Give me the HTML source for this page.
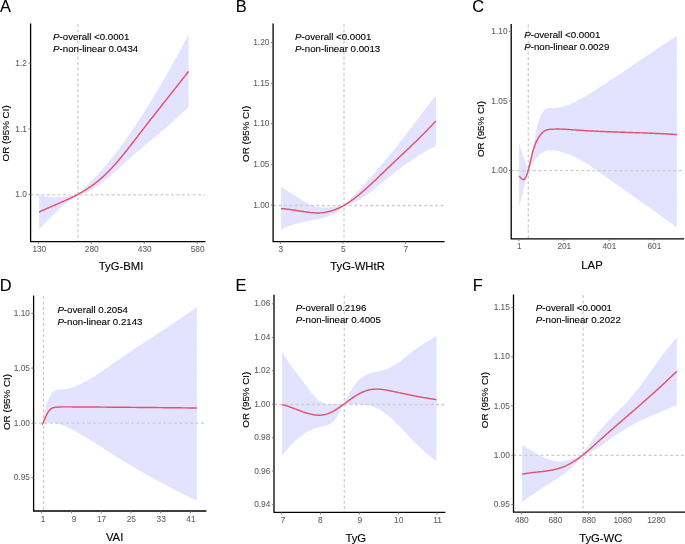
<!DOCTYPE html>
<html><head><meta charset="utf-8"><style>
html,body{margin:0;padding:0;background:#fff;}
svg{display:block;font-family:"Liberation Sans", sans-serif;will-change:transform;}
</style></head><body>
<svg width="685" height="544" viewBox="0 0 685 544">
<rect width="685" height="544" fill="#fff"/>
<path d="M39.00,194.90L39.50,195.04L40.01,195.18L40.51,195.31L41.02,195.44L41.52,195.56L42.02,195.68L42.53,195.79L43.03,195.90L43.54,196.00L44.04,196.10L44.54,196.20L45.05,196.28L45.55,196.37L46.05,196.45L46.56,196.52L47.06,196.59L47.57,196.66L48.07,196.72L48.57,196.78L49.08,196.83L49.58,196.88L50.09,196.93L50.59,196.97L51.09,197.00L51.60,197.04L52.10,197.06L52.61,197.09L53.11,197.11L53.61,197.13L54.12,197.14L54.62,197.15L55.12,197.16L55.63,197.16L56.13,197.16L56.64,197.15L57.14,197.14L57.64,197.13L58.15,197.12L58.65,197.10L59.16,197.08L59.66,197.05L60.16,197.03L60.67,197.00L61.17,196.96L61.68,196.93L62.18,196.89L62.68,196.84L63.19,196.80L63.69,196.75L64.19,196.70L64.70,196.65L65.20,196.59L65.71,196.53L66.21,196.47L66.71,196.41L67.22,196.34L67.72,196.27L68.23,196.20L68.73,196.13L69.23,196.06L69.74,195.98L70.24,195.90L70.75,195.82L71.25,195.74L71.75,195.65L72.26,195.56L72.76,195.48L73.26,195.39L73.77,195.29L74.27,195.20L74.78,195.10L75.28,195.01L75.78,194.91L76.29,194.81L76.79,194.71L77.30,194.60L77.80,194.50L77.80,194.50L78.30,194.04L78.80,193.58L79.30,193.11L79.81,192.65L80.31,192.18L80.81,191.71L81.31,191.24L81.81,190.76L82.31,190.28L82.81,189.80L83.31,189.32L83.82,188.84L84.32,188.36L84.82,187.87L85.32,187.38L85.82,186.89L86.32,186.39L86.82,185.89L87.33,185.40L87.83,184.89L88.33,184.39L88.83,183.89L89.33,183.38L89.83,182.87L90.33,182.36L90.84,181.84L91.34,181.32L91.84,180.80L92.34,180.28L92.84,179.76L93.34,179.23L93.84,178.70L94.34,178.17L94.85,177.64L95.35,177.10L95.85,176.56L96.35,176.02L96.85,175.47L97.35,174.93L97.85,174.38L98.36,173.83L98.86,173.27L99.36,172.72L99.86,172.16L100.36,171.60L100.86,171.03L101.36,170.46L101.87,169.89L102.37,169.32L102.87,168.75L103.37,168.17L103.87,167.59L104.37,167.01L104.87,166.42L105.37,165.83L105.88,165.24L106.38,164.65L106.88,164.05L107.38,163.45L107.88,162.85L108.38,162.25L108.88,161.64L109.39,161.03L109.89,160.42L110.39,159.80L110.89,159.18L111.39,158.56L111.89,157.93L112.39,157.31L112.90,156.68L113.40,156.04L113.90,155.41L114.40,154.77L114.90,154.13L115.40,153.48L115.90,152.83L116.40,152.18L116.91,151.53L117.41,150.87L117.91,150.21L118.41,149.55L118.91,148.89L119.41,148.22L119.91,147.55L120.42,146.87L120.92,146.20L121.42,145.52L121.92,144.83L122.42,144.15L122.92,143.46L123.42,142.77L123.92,142.08L124.43,141.38L124.93,140.68L125.43,139.98L125.93,139.28L126.43,138.57L126.93,137.86L127.43,137.15L127.94,136.44L128.44,135.72L128.94,135.00L129.44,134.28L129.94,133.55L130.44,132.83L130.94,132.10L131.45,131.36L131.95,130.63L132.45,129.89L132.95,129.15L133.45,128.41L133.95,127.67L134.45,126.92L134.95,126.17L135.46,125.42L135.96,124.66L136.46,123.90L136.96,123.15L137.46,122.38L137.96,121.62L138.46,120.85L138.97,120.08L139.47,119.31L139.97,118.54L140.47,117.76L140.97,116.99L141.47,116.21L141.97,115.42L142.48,114.64L142.98,113.85L143.48,113.06L143.98,112.27L144.48,111.48L144.98,110.68L145.48,109.88L145.98,109.08L146.49,108.28L146.99,107.48L147.49,106.67L147.99,105.86L148.49,105.05L148.99,104.24L149.49,103.42L150.00,102.61L150.50,101.79L151.00,100.97L151.50,100.14L152.00,99.32L152.50,98.49L153.00,97.66L153.50,96.83L154.01,96.00L154.51,95.17L155.01,94.33L155.51,93.49L156.01,92.65L156.51,91.81L157.01,90.96L157.52,90.12L158.02,89.27L158.52,88.42L159.02,87.57L159.52,86.72L160.02,85.86L160.52,85.01L161.03,84.15L161.53,83.29L162.03,82.42L162.53,81.56L163.03,80.70L163.53,79.83L164.03,78.96L164.53,78.09L165.04,77.22L165.54,76.34L166.04,75.47L166.54,74.59L167.04,73.71L167.54,72.83L168.04,71.95L168.55,71.07L169.05,70.18L169.55,69.30L170.05,68.41L170.55,67.52L171.05,66.63L171.55,65.73L172.06,64.84L172.56,63.95L173.06,63.05L173.56,62.15L174.06,61.25L174.56,60.35L175.06,59.45L175.56,58.54L176.07,57.64L176.57,56.73L177.07,55.82L177.57,54.91L178.07,54.00L178.57,53.09L179.07,52.18L179.58,51.26L180.08,50.35L180.58,49.43L181.08,48.51L181.58,47.59L182.08,46.67L182.58,45.75L183.09,44.83L183.59,43.90L184.09,42.98L184.59,42.05L185.09,41.12L185.59,40.20L186.09,39.27L186.59,38.33L187.10,37.40L187.60,36.47L188.10,35.54L188.60,34.60L188.60,106.80L188.10,107.30L187.60,107.80L187.10,108.29L186.59,108.79L186.09,109.28L185.59,109.77L185.09,110.26L184.59,110.74L184.09,111.23L183.59,111.71L183.09,112.19L182.58,112.67L182.08,113.14L181.58,113.62L181.08,114.09L180.58,114.56L180.08,115.03L179.58,115.50L179.07,115.97L178.57,116.43L178.07,116.89L177.57,117.36L177.07,117.82L176.57,118.27L176.07,118.73L175.56,119.19L175.06,119.64L174.56,120.09L174.06,120.54L173.56,120.99L173.06,121.44L172.56,121.89L172.06,122.34L171.55,122.78L171.05,123.22L170.55,123.67L170.05,124.11L169.55,124.55L169.05,124.99L168.55,125.43L168.04,125.86L167.54,126.30L167.04,126.73L166.54,127.17L166.04,127.60L165.54,128.03L165.04,128.47L164.53,128.90L164.03,129.33L163.53,129.76L163.03,130.18L162.53,130.61L162.03,131.04L161.53,131.47L161.03,131.89L160.52,132.32L160.02,132.74L159.52,133.17L159.02,133.59L158.52,134.01L158.02,134.44L157.52,134.86L157.01,135.28L156.51,135.70L156.01,136.12L155.51,136.54L155.01,136.96L154.51,137.38L154.01,137.80L153.50,138.22L153.00,138.64L152.50,139.06L152.00,139.48L151.50,139.90L151.00,140.32L150.50,140.74L150.00,141.16L149.49,141.58L148.99,142.00L148.49,142.42L147.99,142.83L147.49,143.25L146.99,143.67L146.49,144.09L145.98,144.51L145.48,144.93L144.98,145.35L144.48,145.78L143.98,146.20L143.48,146.62L142.98,147.04L142.48,147.46L141.97,147.89L141.47,148.31L140.97,148.73L140.47,149.16L139.97,149.58L139.47,150.01L138.97,150.43L138.46,150.86L137.96,151.29L137.46,151.72L136.96,152.15L136.46,152.57L135.96,153.01L135.46,153.44L134.95,153.87L134.45,154.30L133.95,154.74L133.45,155.17L132.95,155.61L132.45,156.04L131.95,156.48L131.45,156.92L130.94,157.36L130.44,157.80L129.94,158.24L129.44,158.68L128.94,159.13L128.44,159.57L127.94,160.02L127.43,160.47L126.93,160.92L126.43,161.37L125.93,161.82L125.43,162.28L124.93,162.73L124.43,163.19L123.92,163.64L123.42,164.10L122.92,164.56L122.42,165.02L121.92,165.48L121.42,165.95L120.92,166.41L120.42,166.87L119.91,167.33L119.41,167.79L118.91,168.25L118.41,168.71L117.91,169.17L117.41,169.63L116.91,170.08L116.40,170.54L115.90,170.99L115.40,171.44L114.90,171.89L114.40,172.33L113.90,172.77L113.40,173.21L112.90,173.65L112.39,174.09L111.89,174.52L111.39,174.95L110.89,175.38L110.39,175.81L109.89,176.23L109.39,176.65L108.88,177.07L108.38,177.49L107.88,177.90L107.38,178.31L106.88,178.72L106.38,179.13L105.88,179.54L105.37,179.94L104.87,180.34L104.37,180.74L103.87,181.14L103.37,181.54L102.87,181.93L102.37,182.32L101.87,182.71L101.36,183.09L100.86,183.48L100.36,183.86L99.86,184.23L99.36,184.61L98.86,184.98L98.36,185.35L97.85,185.71L97.35,186.07L96.85,186.43L96.35,186.78L95.85,187.13L95.35,187.48L94.85,187.82L94.34,188.16L93.84,188.50L93.34,188.83L92.84,189.15L92.34,189.47L91.84,189.78L91.34,190.09L90.84,190.38L90.33,190.68L89.83,190.96L89.33,191.24L88.83,191.51L88.33,191.77L87.83,192.02L87.33,192.26L86.82,192.49L86.32,192.71L85.82,192.92L85.32,193.12L84.82,193.30L84.32,193.48L83.82,193.64L83.31,193.79L82.81,193.93L82.31,194.05L81.81,194.16L81.31,194.26L80.81,194.34L80.31,194.41L79.81,194.46L79.30,194.49L78.80,194.51L78.30,194.51L77.80,194.50L77.80,194.50L77.30,194.96L76.79,195.41L76.29,195.85L75.78,196.28L75.28,196.70L74.78,197.11L74.27,197.51L73.77,197.91L73.26,198.29L72.76,198.67L72.26,199.05L71.75,199.42L71.25,199.79L70.75,200.15L70.24,200.51L69.74,200.87L69.23,201.22L68.73,201.58L68.23,201.93L67.72,202.29L67.22,202.64L66.71,203.00L66.21,203.36L65.71,203.72L65.20,204.08L64.70,204.45L64.19,204.83L63.69,205.21L63.19,205.59L62.68,205.98L62.18,206.38L61.68,206.79L61.17,207.21L60.67,207.63L60.16,208.07L59.66,208.51L59.16,208.97L58.65,209.44L58.15,209.91L57.64,210.39L57.14,210.88L56.64,211.38L56.13,211.88L55.63,212.39L55.12,212.89L54.62,213.41L54.12,213.92L53.61,214.43L53.11,214.95L52.61,215.47L52.10,215.98L51.60,216.50L51.09,217.02L50.59,217.54L50.09,218.06L49.58,218.59L49.08,219.11L48.57,219.63L48.07,220.16L47.57,220.68L47.06,221.21L46.56,221.73L46.05,222.26L45.55,222.78L45.05,223.31L44.54,223.83L44.04,224.36L43.54,224.89L43.03,225.41L42.53,225.94L42.02,226.46L41.52,226.99L41.02,227.51L40.51,228.03L40.01,228.56L39.50,229.08L39.00,229.60Z" fill="#e3e3ff" stroke="none"/>
<line x1="77.9" y1="24.2" x2="77.9" y2="241.6" stroke="#cdcdcd" stroke-width="1.3" stroke-dasharray="3 2.4"/>
<line x1="30.6" y1="194.90" x2="204.8" y2="194.90" stroke="#cdcdcd" stroke-width="1.3" stroke-dasharray="3 2.4"/>
<path d="M39.00,212.10L39.50,211.86L40.00,211.62L40.50,211.39L41.00,211.15L41.50,210.92L42.00,210.69L42.50,210.46L43.00,210.23L43.50,210.00L44.00,209.78L44.50,209.55L45.00,209.33L45.50,209.11L46.00,208.88L46.51,208.66L47.01,208.44L47.51,208.22L48.01,208.00L48.51,207.78L49.01,207.57L49.51,207.35L50.01,207.13L50.51,206.92L51.01,206.70L51.51,206.49L52.01,206.27L52.51,206.06L53.01,205.84L53.51,205.63L54.01,205.41L54.51,205.20L55.01,204.99L55.51,204.77L56.01,204.56L56.51,204.34L57.01,204.13L57.51,203.92L58.01,203.70L58.51,203.49L59.01,203.27L59.51,203.05L60.01,202.84L60.51,202.62L61.01,202.40L61.52,202.18L62.02,201.96L62.52,201.74L63.02,201.52L63.52,201.30L64.02,201.08L64.52,200.86L65.02,200.63L65.52,200.41L66.02,200.18L66.52,199.95L67.02,199.72L67.52,199.49L68.02,199.26L68.52,199.03L69.02,198.79L69.52,198.56L70.02,198.32L70.52,198.08L71.02,197.84L71.52,197.60L72.02,197.35L72.52,197.11L73.02,196.86L73.52,196.61L74.02,196.36L74.52,196.11L75.02,195.85L75.52,195.59L76.02,195.33L76.53,195.07L77.03,194.81L77.53,194.54L78.03,194.27L78.53,194.00L79.03,193.73L79.53,193.45L80.03,193.17L80.53,192.89L81.03,192.60L81.53,192.32L82.03,192.03L82.53,191.74L83.03,191.44L83.53,191.14L84.03,190.84L84.53,190.54L85.03,190.23L85.53,189.92L86.03,189.60L86.53,189.29L87.03,188.97L87.53,188.64L88.03,188.32L88.53,187.99L89.03,187.65L89.53,187.31L90.03,186.97L90.53,186.63L91.03,186.28L91.54,185.93L92.04,185.57L92.54,185.21L93.04,184.85L93.54,184.48L94.04,184.11L94.54,183.73L95.04,183.35L95.54,182.97L96.04,182.58L96.54,182.19L97.04,181.79L97.54,181.39L98.04,180.98L98.54,180.57L99.04,180.16L99.54,179.74L100.04,179.31L100.54,178.88L101.04,178.45L101.54,178.01L102.04,177.57L102.54,177.12L103.04,176.67L103.54,176.21L104.04,175.75L104.54,175.28L105.04,174.80L105.54,174.33L106.04,173.84L106.55,173.35L107.05,172.86L107.55,172.36L108.05,171.86L108.55,171.35L109.05,170.84L109.55,170.32L110.05,169.80L110.55,169.27L111.05,168.74L111.55,168.21L112.05,167.67L112.55,167.13L113.05,166.58L113.55,166.03L114.05,165.48L114.55,164.92L115.05,164.36L115.55,163.79L116.05,163.22L116.55,162.65L117.05,162.07L117.55,161.49L118.05,160.91L118.55,160.32L119.05,159.73L119.55,159.14L120.05,158.55L120.55,157.95L121.05,157.35L121.56,156.74L122.06,156.14L122.56,155.53L123.06,154.92L123.56,154.30L124.06,153.69L124.56,153.07L125.06,152.45L125.56,151.83L126.06,151.20L126.56,150.57L127.06,149.94L127.56,149.31L128.06,148.68L128.56,148.05L129.06,147.41L129.56,146.77L130.06,146.13L130.56,145.49L131.06,144.85L131.56,144.21L132.06,143.57L132.56,142.92L133.06,142.27L133.56,141.63L134.06,140.98L134.56,140.33L135.06,139.68L135.56,139.03L136.06,138.38L136.57,137.73L137.07,137.08L137.57,136.42L138.07,135.77L138.57,135.12L139.07,134.47L139.57,133.81L140.07,133.16L140.57,132.51L141.07,131.86L141.57,131.20L142.07,130.55L142.57,129.90L143.07,129.25L143.57,128.60L144.07,127.95L144.57,127.30L145.07,126.65L145.57,126.00L146.07,125.36L146.57,124.71L147.07,124.06L147.57,123.42L148.07,122.77L148.57,122.13L149.07,121.49L149.57,120.84L150.07,120.20L150.57,119.56L151.07,118.92L151.58,118.28L152.08,117.64L152.58,117.00L153.08,116.36L153.58,115.73L154.08,115.09L154.58,114.45L155.08,113.81L155.58,113.18L156.08,112.54L156.58,111.91L157.08,111.27L157.58,110.64L158.08,110.00L158.58,109.37L159.08,108.73L159.58,108.10L160.08,107.47L160.58,106.83L161.08,106.20L161.58,105.57L162.08,104.94L162.58,104.31L163.08,103.67L163.58,103.04L164.08,102.41L164.58,101.78L165.08,101.15L165.58,100.52L166.08,99.89L166.59,99.26L167.09,98.63L167.59,98.00L168.09,97.37L168.59,96.74L169.09,96.11L169.59,95.48L170.09,94.84L170.59,94.21L171.09,93.58L171.59,92.95L172.09,92.32L172.59,91.69L173.09,91.06L173.59,90.43L174.09,89.80L174.59,89.17L175.09,88.54L175.59,87.91L176.09,87.28L176.59,86.65L177.09,86.01L177.59,85.38L178.09,84.75L178.59,84.12L179.09,83.49L179.59,82.85L180.09,82.22L180.59,81.59L181.09,80.95L181.60,80.32L182.10,79.68L182.60,79.05L183.10,78.41L183.60,77.78L184.10,77.14L184.60,76.51L185.10,75.87L185.60,75.23L186.10,74.60L186.60,73.96L187.10,73.32L187.60,72.68L188.10,72.04L188.60,71.40" fill="none" stroke="#e4516c" stroke-width="1.45" stroke-linejoin="round" stroke-linecap="butt"/>
<path d="M30.6,24.2V241.6H204.8" fill="none" stroke="#000" stroke-width="1.3" stroke-linecap="square"/>
<line x1="28.400000000000002" y1="194.6" x2="30.6" y2="194.6" stroke="#707070" stroke-width="0.9"/>
<text x="26.900000000000002" y="197.20" text-anchor="end" font-size="8.3" fill="#5f5f5f" stroke="#5f5f5f" stroke-width="0.08">1.0</text>
<line x1="28.400000000000002" y1="128.9" x2="30.6" y2="128.9" stroke="#707070" stroke-width="0.9"/>
<text x="26.900000000000002" y="131.50" text-anchor="end" font-size="8.3" fill="#5f5f5f" stroke="#5f5f5f" stroke-width="0.08">1.1</text>
<line x1="28.400000000000002" y1="63.1" x2="30.6" y2="63.1" stroke="#707070" stroke-width="0.9"/>
<text x="26.900000000000002" y="65.70" text-anchor="end" font-size="8.3" fill="#5f5f5f" stroke="#5f5f5f" stroke-width="0.08">1.2</text>
<line x1="38.4" y1="241.6" x2="38.4" y2="243.79999999999998" stroke="#707070" stroke-width="0.9"/>
<text x="39.30" y="252.10" text-anchor="middle" font-size="8.3" fill="#5f5f5f" stroke="#5f5f5f" stroke-width="0.08">130</text>
<line x1="91.3" y1="241.6" x2="91.3" y2="243.79999999999998" stroke="#707070" stroke-width="0.9"/>
<text x="91.70" y="252.10" text-anchor="middle" font-size="8.3" fill="#5f5f5f" stroke="#5f5f5f" stroke-width="0.08">280</text>
<line x1="144.3" y1="241.6" x2="144.3" y2="243.79999999999998" stroke="#707070" stroke-width="0.9"/>
<text x="144.70" y="252.10" text-anchor="middle" font-size="8.3" fill="#5f5f5f" stroke="#5f5f5f" stroke-width="0.08">430</text>
<line x1="197.2" y1="241.6" x2="197.2" y2="243.79999999999998" stroke="#707070" stroke-width="0.9"/>
<text x="197.60" y="252.10" text-anchor="middle" font-size="8.3" fill="#5f5f5f" stroke="#5f5f5f" stroke-width="0.08">580</text>
<text x="53.1" y="39.7" font-size="9.7" fill="#000" stroke="#000" stroke-width="0.12"><tspan font-style="italic">P</tspan>-overall &lt;0.0001</text>
<text x="53.1" y="51.8" font-size="9.7" fill="#000" stroke="#000" stroke-width="0.12"><tspan font-style="italic">P</tspan>-non-linear 0.0434</text>
<text x="121.1" y="270.00" text-anchor="middle" font-size="11.3" fill="#000" stroke="#000" stroke-width="0.12">TyG-BMI</text>
<text transform="translate(9.0,133.4) rotate(-90)" x="0" y="0" text-anchor="middle" font-size="9.8" fill="#000" stroke="#000" stroke-width="0.12">OR (95% CI)</text>
<text x="0.0" y="11.9" font-size="16.4" fill="#000" stroke="#000" stroke-width="0.12">A</text>
<path d="M281.00,186.70L281.50,187.02L282.01,187.34L282.51,187.66L283.01,187.98L283.52,188.30L284.02,188.62L284.52,188.94L285.03,189.26L285.53,189.58L286.03,189.90L286.53,190.22L287.04,190.54L287.54,190.86L288.04,191.18L288.55,191.51L289.05,191.83L289.55,192.15L290.06,192.47L290.56,192.79L291.06,193.11L291.57,193.43L292.07,193.75L292.57,194.07L293.08,194.39L293.58,194.71L294.08,195.03L294.59,195.35L295.09,195.67L295.59,195.98L296.10,196.30L296.60,196.62L297.10,196.94L297.60,197.25L298.11,197.57L298.61,197.89L299.11,198.20L299.62,198.52L300.12,198.83L300.62,199.15L301.13,199.46L301.63,199.77L302.13,200.08L302.64,200.39L303.14,200.70L303.64,201.00L304.15,201.31L304.65,201.61L305.15,201.90L305.66,202.19L306.16,202.48L306.66,202.76L307.17,203.04L307.67,203.31L308.17,203.58L308.67,203.84L309.18,204.09L309.68,204.34L310.18,204.57L310.69,204.80L311.19,205.03L311.69,205.24L312.20,205.44L312.70,205.64L313.20,205.83L313.71,206.00L314.21,206.17L314.71,206.32L315.22,206.47L315.72,206.60L316.22,206.73L316.73,206.84L317.23,206.95L317.73,207.05L318.23,207.14L318.74,207.22L319.24,207.29L319.74,207.36L320.25,207.41L320.75,207.46L321.25,207.51L321.76,207.54L322.26,207.57L322.76,207.59L323.27,207.61L323.77,207.62L324.27,207.62L324.78,207.62L325.28,207.62L325.78,207.60L326.29,207.59L326.79,207.56L327.29,207.54L327.80,207.50L328.30,207.47L328.80,207.43L329.30,207.39L329.81,207.34L330.31,207.29L330.81,207.24L331.32,207.18L331.82,207.13L332.32,207.07L332.83,207.00L333.33,206.94L333.83,206.87L334.34,206.81L334.84,206.74L335.34,206.67L335.85,206.60L336.35,206.53L336.85,206.46L337.36,206.38L337.86,206.31L338.36,206.24L338.87,206.16L339.37,206.08L339.87,206.01L340.37,205.93L340.88,205.84L341.38,205.76L341.88,205.67L342.39,205.58L342.89,205.49L343.39,205.40L343.90,205.30L344.40,205.20L344.40,205.20L344.90,204.68L345.40,204.16L345.90,203.64L346.40,203.12L346.90,202.59L347.40,202.07L347.90,201.55L348.40,201.03L348.90,200.51L349.40,199.98L349.90,199.46L350.40,198.93L350.90,198.41L351.40,197.89L351.90,197.36L352.40,196.83L352.90,196.31L353.40,195.78L353.90,195.25L354.40,194.73L354.90,194.20L355.40,193.67L355.90,193.14L356.40,192.61L356.90,192.08L357.40,191.55L357.90,191.02L358.40,190.48L358.90,189.95L359.40,189.42L359.90,188.88L360.40,188.35L360.90,187.81L361.40,187.27L361.90,186.73L362.40,186.20L362.90,185.66L363.40,185.12L363.90,184.57L364.40,184.03L364.90,183.49L365.40,182.95L365.90,182.40L366.40,181.85L366.90,181.31L367.40,180.76L367.90,180.21L368.40,179.66L368.90,179.11L369.40,178.56L369.90,178.00L370.40,177.45L370.90,176.89L371.40,176.34L371.90,175.78L372.40,175.22L372.90,174.66L373.40,174.10L373.90,173.53L374.40,172.97L374.90,172.40L375.40,171.84L375.90,171.27L376.40,170.70L376.90,170.13L377.40,169.56L377.90,168.98L378.40,168.41L378.90,167.83L379.40,167.25L379.90,166.67L380.40,166.09L380.90,165.51L381.40,164.92L381.90,164.34L382.40,163.75L382.90,163.16L383.40,162.57L383.90,161.98L384.40,161.39L384.90,160.79L385.40,160.19L385.90,159.60L386.40,159.00L386.90,158.39L387.40,157.79L387.90,157.18L388.40,156.58L388.90,155.97L389.40,155.36L389.90,154.75L390.40,154.13L390.90,153.52L391.40,152.90L391.90,152.28L392.40,151.66L392.90,151.04L393.40,150.42L393.90,149.79L394.40,149.17L394.90,148.54L395.40,147.91L395.90,147.28L396.40,146.65L396.90,146.02L397.40,145.39L397.90,144.75L398.40,144.12L398.90,143.48L399.40,142.85L399.90,142.21L400.40,141.57L400.90,140.93L401.40,140.29L401.90,139.64L402.40,139.00L402.90,138.36L403.40,137.71L403.90,137.07L404.40,136.42L404.90,135.77L405.40,135.13L405.90,134.48L406.40,133.83L406.90,133.18L407.40,132.53L407.90,131.88L408.40,131.23L408.90,130.57L409.40,129.92L409.90,129.27L410.40,128.62L410.90,127.96L411.40,127.31L411.90,126.65L412.40,126.00L412.90,125.34L413.40,124.69L413.90,124.03L414.40,123.38L414.90,122.72L415.40,122.06L415.90,121.41L416.40,120.75L416.90,120.10L417.40,119.44L417.90,118.78L418.40,118.13L418.90,117.47L419.40,116.81L419.90,116.16L420.40,115.50L420.90,114.85L421.40,114.19L421.90,113.54L422.40,112.88L422.90,112.23L423.40,111.57L423.90,110.92L424.40,110.26L424.90,109.61L425.40,108.96L425.90,108.31L426.40,107.65L426.90,107.00L427.40,106.35L427.90,105.70L428.40,105.05L428.90,104.40L429.40,103.75L429.90,103.11L430.40,102.46L430.90,101.81L431.40,101.17L431.90,100.52L432.40,99.88L432.90,99.24L433.40,98.60L433.90,97.95L434.40,97.31L434.90,96.68L435.40,96.04L435.90,95.40L435.90,145.90L435.40,146.15L434.90,146.40L434.40,146.66L433.90,146.91L433.40,147.17L432.90,147.43L432.40,147.69L431.90,147.96L431.40,148.22L430.90,148.49L430.40,148.76L429.90,149.03L429.40,149.31L428.90,149.58L428.40,149.86L427.90,150.14L427.40,150.42L426.90,150.70L426.40,150.99L425.90,151.28L425.40,151.56L424.90,151.85L424.40,152.15L423.90,152.44L423.40,152.74L422.90,153.03L422.40,153.33L421.90,153.64L421.40,153.94L420.90,154.24L420.40,154.55L419.90,154.86L419.40,155.17L418.90,155.48L418.40,155.79L417.90,156.11L417.40,156.43L416.90,156.75L416.40,157.07L415.90,157.39L415.40,157.71L414.90,158.04L414.40,158.37L413.90,158.70L413.40,159.03L412.90,159.36L412.40,159.69L411.90,160.03L411.40,160.37L410.90,160.71L410.40,161.05L409.90,161.39L409.40,161.73L408.90,162.08L408.40,162.43L407.90,162.77L407.40,163.13L406.90,163.48L406.40,163.83L405.90,164.19L405.40,164.54L404.90,164.90L404.40,165.26L403.90,165.62L403.40,165.98L402.90,166.35L402.40,166.71L401.90,167.08L401.40,167.45L400.90,167.82L400.40,168.19L399.90,168.57L399.40,168.94L398.90,169.32L398.40,169.70L397.90,170.07L397.40,170.46L396.90,170.84L396.40,171.22L395.90,171.61L395.40,171.99L394.90,172.38L394.40,172.77L393.90,173.16L393.40,173.55L392.90,173.95L392.40,174.34L391.90,174.74L391.40,175.13L390.90,175.53L390.40,175.93L389.90,176.33L389.40,176.74L388.90,177.14L388.40,177.55L387.90,177.95L387.40,178.36L386.90,178.77L386.40,179.18L385.90,179.59L385.40,180.01L384.90,180.42L384.40,180.83L383.90,181.25L383.40,181.67L382.90,182.08L382.40,182.50L381.90,182.91L381.40,183.33L380.90,183.75L380.40,184.16L379.90,184.58L379.40,184.99L378.90,185.41L378.40,185.82L377.90,186.24L377.40,186.65L376.90,187.06L376.40,187.47L375.90,187.88L375.40,188.28L374.90,188.69L374.40,189.09L373.90,189.49L373.40,189.89L372.90,190.29L372.40,190.68L371.90,191.08L371.40,191.47L370.90,191.85L370.40,192.24L369.90,192.62L369.40,193.00L368.90,193.37L368.40,193.74L367.90,194.11L367.40,194.48L366.90,194.84L366.40,195.20L365.90,195.55L365.40,195.90L364.90,196.24L364.40,196.59L363.90,196.92L363.40,197.25L362.90,197.58L362.40,197.90L361.90,198.22L361.40,198.53L360.90,198.84L360.40,199.14L359.90,199.44L359.40,199.73L358.90,200.01L358.40,200.29L357.90,200.56L357.40,200.83L356.90,201.09L356.40,201.35L355.90,201.59L355.40,201.83L354.90,202.07L354.40,202.30L353.90,202.52L353.40,202.73L352.90,202.94L352.40,203.13L351.90,203.33L351.40,203.51L350.90,203.68L350.40,203.85L349.90,204.01L349.40,204.16L348.90,204.31L348.40,204.44L347.90,204.57L347.40,204.68L346.90,204.79L346.40,204.89L345.90,204.98L345.40,205.07L344.90,205.14L344.40,205.20L344.40,205.20L343.90,205.79L343.39,206.36L342.89,206.91L342.39,207.44L341.88,207.96L341.38,208.45L340.88,208.93L340.37,209.39L339.87,209.83L339.37,210.26L338.87,210.67L338.36,211.07L337.86,211.45L337.36,211.81L336.85,212.16L336.35,212.50L335.85,212.83L335.34,213.14L334.84,213.44L334.34,213.73L333.83,214.01L333.33,214.27L332.83,214.53L332.32,214.78L331.82,215.01L331.32,215.24L330.81,215.46L330.31,215.67L329.81,215.87L329.30,216.07L328.80,216.26L328.30,216.44L327.80,216.62L327.29,216.79L326.79,216.96L326.29,217.12L325.78,217.28L325.28,217.43L324.78,217.58L324.27,217.73L323.77,217.87L323.27,218.01L322.76,218.15L322.26,218.28L321.76,218.41L321.25,218.54L320.75,218.66L320.25,218.78L319.74,218.90L319.24,219.02L318.74,219.13L318.23,219.24L317.73,219.35L317.23,219.46L316.73,219.56L316.22,219.67L315.72,219.77L315.22,219.87L314.71,219.97L314.21,220.07L313.71,220.16L313.20,220.26L312.70,220.35L312.20,220.45L311.69,220.54L311.19,220.63L310.69,220.73L310.18,220.82L309.68,220.91L309.18,221.00L308.67,221.09L308.17,221.18L307.67,221.28L307.17,221.37L306.66,221.46L306.16,221.56L305.66,221.65L305.15,221.75L304.65,221.84L304.15,221.94L303.64,222.04L303.14,222.14L302.64,222.24L302.13,222.35L301.63,222.45L301.13,222.56L300.62,222.67L300.12,222.78L299.62,222.89L299.11,223.01L298.61,223.13L298.11,223.25L297.60,223.37L297.10,223.50L296.60,223.63L296.10,223.76L295.59,223.90L295.09,224.04L294.59,224.18L294.08,224.33L293.58,224.48L293.08,224.63L292.57,224.79L292.07,224.95L291.57,225.12L291.06,225.29L290.56,225.46L290.06,225.64L289.55,225.83L289.05,226.02L288.55,226.21L288.04,226.41L287.54,226.61L287.04,226.82L286.53,227.04L286.03,227.26L285.53,227.49L285.03,227.72L284.52,227.96L284.02,228.20L283.52,228.45L283.01,228.71L282.51,228.97L282.01,229.24L281.50,229.52L281.00,229.80Z" fill="#e3e3ff" stroke="none"/>
<line x1="344.0" y1="24.2" x2="344.0" y2="241.6" stroke="#cdcdcd" stroke-width="1.3" stroke-dasharray="3 2.4"/>
<line x1="273.1" y1="205.50" x2="443.9" y2="205.50" stroke="#cdcdcd" stroke-width="1.3" stroke-dasharray="3 2.4"/>
<path d="M281.00,208.60L281.50,208.63L282.00,208.67L282.50,208.71L283.01,208.75L283.51,208.80L284.01,208.84L284.51,208.89L285.01,208.94L285.51,208.99L286.01,209.04L286.51,209.10L287.02,209.15L287.52,209.21L288.02,209.27L288.52,209.33L289.02,209.39L289.52,209.46L290.02,209.52L290.52,209.59L291.03,209.65L291.53,209.72L292.03,209.79L292.53,209.86L293.03,209.94L293.53,210.01L294.03,210.08L294.53,210.16L295.04,210.23L295.54,210.31L296.04,210.39L296.54,210.46L297.04,210.54L297.54,210.62L298.04,210.70L298.55,210.78L299.05,210.86L299.55,210.94L300.05,211.02L300.55,211.10L301.05,211.18L301.55,211.26L302.05,211.34L302.56,211.42L303.06,211.50L303.56,211.58L304.06,211.66L304.56,211.74L305.06,211.82L305.56,211.89L306.06,211.97L306.57,212.04L307.07,212.11L307.57,212.18L308.07,212.25L308.57,212.31L309.07,212.38L309.57,212.44L310.08,212.50L310.58,212.55L311.08,212.61L311.58,212.66L312.08,212.70L312.58,212.75L313.08,212.79L313.58,212.82L314.09,212.86L314.59,212.88L315.09,212.91L315.59,212.93L316.09,212.95L316.59,212.96L317.09,212.96L317.59,212.97L318.10,212.96L318.60,212.96L319.10,212.94L319.60,212.92L320.10,212.90L320.60,212.87L321.10,212.83L321.60,212.79L322.11,212.75L322.61,212.69L323.11,212.64L323.61,212.57L324.11,212.50L324.61,212.43L325.11,212.35L325.62,212.26L326.12,212.17L326.62,212.07L327.12,211.97L327.62,211.86L328.12,211.75L328.62,211.63L329.12,211.50L329.63,211.37L330.13,211.24L330.63,211.10L331.13,210.95L331.63,210.80L332.13,210.64L332.63,210.48L333.13,210.31L333.64,210.13L334.14,209.96L334.64,209.77L335.14,209.58L335.64,209.38L336.14,209.18L336.64,208.98L337.14,208.77L337.65,208.55L338.15,208.33L338.65,208.10L339.15,207.87L339.65,207.63L340.15,207.39L340.65,207.14L341.16,206.88L341.66,206.62L342.16,206.36L342.66,206.09L343.16,205.82L343.66,205.54L344.16,205.25L344.66,204.96L345.17,204.67L345.67,204.37L346.17,204.06L346.67,203.75L347.17,203.43L347.67,203.11L348.17,202.79L348.67,202.46L349.18,202.13L349.68,201.79L350.18,201.44L350.68,201.10L351.18,200.75L351.68,200.39L352.18,200.03L352.69,199.67L353.19,199.30L353.69,198.93L354.19,198.55L354.69,198.17L355.19,197.79L355.69,197.40L356.19,197.01L356.70,196.61L357.20,196.21L357.70,195.81L358.20,195.41L358.70,195.00L359.20,194.59L359.70,194.17L360.20,193.76L360.71,193.34L361.21,192.91L361.71,192.49L362.21,192.06L362.71,191.63L363.21,191.19L363.71,190.76L364.21,190.32L364.72,189.87L365.22,189.43L365.72,188.98L366.22,188.53L366.72,188.08L367.22,187.63L367.72,187.17L368.23,186.72L368.73,186.26L369.23,185.80L369.73,185.34L370.23,184.87L370.73,184.40L371.23,183.94L371.73,183.47L372.24,183.00L372.74,182.53L373.24,182.05L373.74,181.58L374.24,181.10L374.74,180.63L375.24,180.15L375.74,179.67L376.25,179.19L376.75,178.71L377.25,178.23L377.75,177.75L378.25,177.27L378.75,176.79L379.25,176.30L379.76,175.82L380.26,175.34L380.76,174.85L381.26,174.37L381.76,173.88L382.26,173.40L382.76,172.92L383.26,172.43L383.77,171.95L384.27,171.46L384.77,170.98L385.27,170.50L385.77,170.02L386.27,169.53L386.77,169.05L387.27,168.57L387.78,168.09L388.28,167.61L388.78,167.13L389.28,166.65L389.78,166.18L390.28,165.70L390.78,165.22L391.28,164.75L391.79,164.27L392.29,163.80L392.79,163.32L393.29,162.85L393.79,162.37L394.29,161.90L394.79,161.42L395.30,160.95L395.80,160.48L396.30,160.00L396.80,159.53L397.30,159.06L397.80,158.59L398.30,158.11L398.80,157.64L399.31,157.17L399.81,156.70L400.31,156.22L400.81,155.75L401.31,155.28L401.81,154.80L402.31,154.33L402.81,153.86L403.32,153.38L403.82,152.91L404.32,152.44L404.82,151.96L405.32,151.49L405.82,151.01L406.32,150.54L406.82,150.06L407.33,149.59L407.83,149.11L408.33,148.63L408.83,148.16L409.33,147.68L409.83,147.20L410.33,146.72L410.84,146.24L411.34,145.76L411.84,145.28L412.34,144.80L412.84,144.32L413.34,143.84L413.84,143.35L414.34,142.87L414.85,142.38L415.35,141.90L415.85,141.41L416.35,140.92L416.85,140.43L417.35,139.94L417.85,139.45L418.35,138.96L418.86,138.47L419.36,137.97L419.86,137.48L420.36,136.98L420.86,136.49L421.36,135.99L421.86,135.49L422.37,134.99L422.87,134.48L423.37,133.98L423.87,133.48L424.37,132.97L424.87,132.46L425.37,131.95L425.87,131.44L426.38,130.93L426.88,130.42L427.38,129.90L427.88,129.39L428.38,128.87L428.88,128.35L429.38,127.83L429.88,127.31L430.39,126.78L430.89,126.26L431.39,125.73L431.89,125.20L432.39,124.67L432.89,124.14L433.39,123.60L433.89,123.07L434.40,122.53L434.90,121.99L435.40,121.44L435.90,120.90" fill="none" stroke="#e4516c" stroke-width="1.45" stroke-linejoin="round" stroke-linecap="butt"/>
<path d="M273.1,24.2V241.6H443.9" fill="none" stroke="#000" stroke-width="1.3" stroke-linecap="square"/>
<line x1="270.90000000000003" y1="205.0" x2="273.1" y2="205.0" stroke="#707070" stroke-width="0.9"/>
<text x="269.40000000000003" y="207.60" text-anchor="end" font-size="8.3" fill="#5f5f5f" stroke="#5f5f5f" stroke-width="0.08">1.00</text>
<line x1="270.90000000000003" y1="164.4" x2="273.1" y2="164.4" stroke="#707070" stroke-width="0.9"/>
<text x="269.40000000000003" y="167.00" text-anchor="end" font-size="8.3" fill="#5f5f5f" stroke="#5f5f5f" stroke-width="0.08">1.05</text>
<line x1="270.90000000000003" y1="123.75" x2="273.1" y2="123.75" stroke="#707070" stroke-width="0.9"/>
<text x="269.40000000000003" y="126.35" text-anchor="end" font-size="8.3" fill="#5f5f5f" stroke="#5f5f5f" stroke-width="0.08">1.10</text>
<line x1="270.90000000000003" y1="83.3" x2="273.1" y2="83.3" stroke="#707070" stroke-width="0.9"/>
<text x="269.40000000000003" y="85.90" text-anchor="end" font-size="8.3" fill="#5f5f5f" stroke="#5f5f5f" stroke-width="0.08">1.15</text>
<line x1="270.90000000000003" y1="42.5" x2="273.1" y2="42.5" stroke="#707070" stroke-width="0.9"/>
<text x="269.40000000000003" y="45.10" text-anchor="end" font-size="8.3" fill="#5f5f5f" stroke="#5f5f5f" stroke-width="0.08">1.20</text>
<line x1="280.5" y1="241.6" x2="280.5" y2="243.79999999999998" stroke="#707070" stroke-width="0.9"/>
<text x="280.90" y="252.10" text-anchor="middle" font-size="8.3" fill="#5f5f5f" stroke="#5f5f5f" stroke-width="0.08">3</text>
<line x1="343.0" y1="241.6" x2="343.0" y2="243.79999999999998" stroke="#707070" stroke-width="0.9"/>
<text x="343.40" y="252.10" text-anchor="middle" font-size="8.3" fill="#5f5f5f" stroke="#5f5f5f" stroke-width="0.08">5</text>
<line x1="405.5" y1="241.6" x2="405.5" y2="243.79999999999998" stroke="#707070" stroke-width="0.9"/>
<text x="405.90" y="252.10" text-anchor="middle" font-size="8.3" fill="#5f5f5f" stroke="#5f5f5f" stroke-width="0.08">7</text>
<text x="295.1" y="39.7" font-size="9.7" fill="#000" stroke="#000" stroke-width="0.12"><tspan font-style="italic">P</tspan>-overall &lt;0.0001</text>
<text x="295.1" y="51.8" font-size="9.7" fill="#000" stroke="#000" stroke-width="0.12"><tspan font-style="italic">P</tspan>-non-linear 0.0013</text>
<text x="357.5" y="270.00" text-anchor="middle" font-size="11.3" fill="#000" stroke="#000" stroke-width="0.12">TyG-WHtR</text>
<text transform="translate(248.8,133.9) rotate(-90)" x="0" y="0" text-anchor="middle" font-size="9.8" fill="#000" stroke="#000" stroke-width="0.12">OR (95% CI)</text>
<text x="235.7" y="11.9" font-size="16.4" fill="#000" stroke="#000" stroke-width="0.12">B</text>
<path d="M519.10,143.20C520.63,147.73 526.77,165.87 528.30,170.40L528.30,170.40L528.80,168.44L529.30,166.33L529.80,164.07L530.30,161.69L530.80,159.21L531.30,156.64L531.80,154.01L532.30,151.34L532.80,148.63L533.30,145.91L533.80,143.20L534.30,140.52L534.80,137.89L535.30,135.32L535.81,132.83L536.31,130.44L536.81,128.17L537.31,126.03L537.81,124.05L538.31,122.24L538.81,120.59L539.31,119.10L539.81,117.75L540.31,116.54L540.81,115.44L541.31,114.44L541.81,113.55L542.31,112.74L542.81,112.01L543.31,111.36L543.81,110.78L544.31,110.28L544.81,109.83L545.31,109.45L545.81,109.12L546.31,108.85L546.81,108.62L547.31,108.44L547.81,108.29L548.31,108.18L548.81,108.10L549.31,108.05L549.81,108.02L550.31,108.01L550.82,108.01L551.32,108.02L551.82,108.04L552.32,108.06L552.82,108.07L553.32,108.08L553.82,108.08L554.32,108.07L554.82,108.04L555.32,108.01L555.82,107.96L556.32,107.91L556.82,107.85L557.32,107.78L557.82,107.70L558.32,107.62L558.82,107.52L559.32,107.42L559.82,107.32L560.32,107.21L560.82,107.09L561.32,106.97L561.82,106.84L562.32,106.71L562.82,106.57L563.32,106.43L563.82,106.28L564.32,106.13L564.82,105.97L565.32,105.80L565.83,105.64L566.33,105.46L566.83,105.29L567.33,105.11L567.83,104.92L568.33,104.73L568.83,104.53L569.33,104.33L569.83,104.13L570.33,103.92L570.83,103.71L571.33,103.50L571.83,103.28L572.33,103.06L572.83,102.83L573.33,102.60L573.83,102.36L574.33,102.13L574.83,101.89L575.33,101.64L575.83,101.39L576.33,101.14L576.83,100.89L577.33,100.63L577.83,100.37L578.33,100.11L578.83,99.85L579.33,99.58L579.83,99.31L580.34,99.03L580.84,98.76L581.34,98.48L581.84,98.20L582.34,97.92L582.84,97.63L583.34,97.34L583.84,97.05L584.34,96.76L584.84,96.47L585.34,96.17L585.84,95.88L586.34,95.58L586.84,95.28L587.34,94.98L587.84,94.68L588.34,94.37L588.84,94.07L589.34,93.76L589.84,93.45L590.34,93.14L590.84,92.83L591.34,92.52L591.84,92.21L592.34,91.90L592.84,91.58L593.34,91.27L593.84,90.96L594.34,90.64L594.84,90.33L595.35,90.01L595.85,89.69L596.35,89.38L596.85,89.06L597.35,88.74L597.85,88.42L598.35,88.10L598.85,87.78L599.35,87.46L599.85,87.14L600.35,86.82L600.85,86.50L601.35,86.18L601.85,85.85L602.35,85.53L602.85,85.21L603.35,84.88L603.85,84.56L604.35,84.24L604.85,83.91L605.35,83.59L605.85,83.26L606.35,82.93L606.85,82.61L607.35,82.28L607.85,81.95L608.35,81.62L608.85,81.30L609.35,80.97L609.85,80.64L610.36,80.31L610.86,79.98L611.36,79.65L611.86,79.32L612.36,78.99L612.86,78.66L613.36,78.32L613.86,77.99L614.36,77.66L614.86,77.33L615.36,77.00L615.86,76.66L616.36,76.33L616.86,76.00L617.36,75.66L617.86,75.33L618.36,74.99L618.86,74.66L619.36,74.32L619.86,73.99L620.36,73.65L620.86,73.32L621.36,72.98L621.86,72.65L622.36,72.31L622.86,71.98L623.36,71.64L623.86,71.30L624.36,70.97L624.86,70.63L625.37,70.29L625.87,69.95L626.37,69.62L626.87,69.28L627.37,68.94L627.87,68.60L628.37,68.26L628.87,67.93L629.37,67.59L629.87,67.25L630.37,66.91L630.87,66.57L631.37,66.23L631.87,65.89L632.37,65.55L632.87,65.22L633.37,64.88L633.87,64.54L634.37,64.20L634.87,63.86L635.37,63.52L635.87,63.18L636.37,62.84L636.87,62.50L637.37,62.16L637.87,61.82L638.37,61.48L638.87,61.14L639.37,60.80L639.88,60.46L640.38,60.12L640.88,59.78L641.38,59.45L641.88,59.11L642.38,58.77L642.88,58.43L643.38,58.09L643.88,57.75L644.38,57.41L644.88,57.07L645.38,56.73L645.88,56.39L646.38,56.05L646.88,55.72L647.38,55.38L647.88,55.04L648.38,54.70L648.88,54.36L649.38,54.02L649.88,53.68L650.38,53.35L650.88,53.01L651.38,52.67L651.88,52.33L652.38,52.00L652.88,51.66L653.38,51.32L653.88,50.99L654.38,50.65L654.89,50.31L655.39,49.98L655.89,49.64L656.39,49.31L656.89,48.97L657.39,48.63L657.89,48.30L658.39,47.96L658.89,47.63L659.39,47.30L659.89,46.96L660.39,46.63L660.89,46.29L661.39,45.96L661.89,45.63L662.39,45.30L662.89,44.96L663.39,44.63L663.89,44.30L664.39,43.97L664.89,43.64L665.39,43.31L665.89,42.97L666.39,42.64L666.89,42.31L667.39,41.99L667.89,41.66L668.39,41.33L668.89,41.00L669.39,40.67L669.90,40.34L670.40,40.02L670.90,39.69L671.40,39.36L671.90,39.04L672.40,38.71L672.90,38.39L673.40,38.06L673.90,37.74L674.40,37.41L674.90,37.09L675.40,36.77L675.90,36.44L676.40,36.12L676.90,35.80L676.90,227.50L676.40,227.13L675.90,226.77L675.40,226.40L674.90,226.04L674.40,225.67L673.90,225.31L673.40,224.94L672.90,224.58L672.40,224.21L671.90,223.85L671.40,223.48L670.90,223.12L670.40,222.76L669.90,222.39L669.39,222.03L668.89,221.67L668.39,221.31L667.89,220.94L667.39,220.58L666.89,220.22L666.39,219.86L665.89,219.49L665.39,219.13L664.89,218.77L664.39,218.41L663.89,218.05L663.39,217.69L662.89,217.33L662.39,216.97L661.89,216.61L661.39,216.25L660.89,215.89L660.39,215.53L659.89,215.17L659.39,214.81L658.89,214.45L658.39,214.09L657.89,213.73L657.39,213.37L656.89,213.01L656.39,212.65L655.89,212.30L655.39,211.94L654.89,211.58L654.38,211.22L653.88,210.86L653.38,210.51L652.88,210.15L652.38,209.79L651.88,209.43L651.38,209.08L650.88,208.72L650.38,208.36L649.88,208.01L649.38,207.65L648.88,207.29L648.38,206.94L647.88,206.58L647.38,206.22L646.88,205.87L646.38,205.51L645.88,205.16L645.38,204.80L644.88,204.45L644.38,204.09L643.88,203.74L643.38,203.38L642.88,203.02L642.38,202.67L641.88,202.31L641.38,201.96L640.88,201.61L640.38,201.25L639.88,200.90L639.37,200.54L638.87,200.19L638.37,199.83L637.87,199.48L637.37,199.12L636.87,198.77L636.37,198.42L635.87,198.06L635.37,197.71L634.87,197.36L634.37,197.00L633.87,196.65L633.37,196.29L632.87,195.94L632.37,195.59L631.87,195.23L631.37,194.88L630.87,194.53L630.37,194.18L629.87,193.82L629.37,193.47L628.87,193.12L628.37,192.76L627.87,192.41L627.37,192.06L626.87,191.70L626.37,191.35L625.87,191.00L625.37,190.65L624.86,190.29L624.36,189.94L623.86,189.59L623.36,189.24L622.86,188.88L622.36,188.53L621.86,188.18L621.36,187.83L620.86,187.47L620.36,187.12L619.86,186.77L619.36,186.42L618.86,186.06L618.36,185.71L617.86,185.36L617.36,185.01L616.86,184.66L616.36,184.30L615.86,183.95L615.36,183.60L614.86,183.25L614.36,182.89L613.86,182.54L613.36,182.19L612.86,181.84L612.36,181.48L611.86,181.13L611.36,180.78L610.86,180.43L610.36,180.08L609.85,179.72L609.35,179.37L608.85,179.02L608.35,178.67L607.85,178.31L607.35,177.96L606.85,177.61L606.35,177.26L605.85,176.90L605.35,176.55L604.85,176.20L604.35,175.84L603.85,175.49L603.35,175.14L602.85,174.79L602.35,174.43L601.85,174.08L601.35,173.73L600.85,173.38L600.35,173.02L599.85,172.67L599.35,172.32L598.85,171.97L598.35,171.62L597.85,171.27L597.35,170.92L596.85,170.57L596.35,170.22L595.85,169.88L595.35,169.53L594.84,169.19L594.34,168.84L593.84,168.50L593.34,168.16L592.84,167.82L592.34,167.48L591.84,167.14L591.34,166.81L590.84,166.47L590.34,166.14L589.84,165.81L589.34,165.48L588.84,165.15L588.34,164.83L587.84,164.50L587.34,164.18L586.84,163.86L586.34,163.54L585.84,163.23L585.34,162.92L584.84,162.61L584.34,162.30L583.84,161.99L583.34,161.69L582.84,161.39L582.34,161.09L581.84,160.80L581.34,160.51L580.84,160.22L580.34,159.93L579.83,159.65L579.33,159.37L578.83,159.09L578.33,158.82L577.83,158.55L577.33,158.29L576.83,158.02L576.33,157.76L575.83,157.51L575.33,157.26L574.83,157.01L574.33,156.76L573.83,156.52L573.33,156.29L572.83,156.05L572.33,155.82L571.83,155.60L571.33,155.38L570.83,155.16L570.33,154.95L569.83,154.75L569.33,154.54L568.83,154.35L568.33,154.15L567.83,153.96L567.33,153.78L566.83,153.60L566.33,153.42L565.83,153.25L565.32,153.08L564.82,152.91L564.32,152.75L563.82,152.60L563.32,152.45L562.82,152.30L562.32,152.15L561.82,152.01L561.32,151.88L560.82,151.74L560.32,151.61L559.82,151.49L559.32,151.37L558.82,151.25L558.32,151.14L557.82,151.02L557.32,150.92L556.82,150.82L556.32,150.72L555.82,150.63L555.32,150.55L554.82,150.47L554.32,150.41L553.82,150.35L553.32,150.30L552.82,150.26L552.32,150.23L551.82,150.21L551.32,150.20L550.82,150.21L550.31,150.22L549.81,150.26L549.31,150.30L548.81,150.36L548.31,150.43L547.81,150.52L547.31,150.63L546.81,150.75L546.31,150.89L545.81,151.05L545.31,151.23L544.81,151.43L544.31,151.64L543.81,151.88L543.31,152.14L542.81,152.42L542.31,152.72L541.81,153.05L541.31,153.39L540.81,153.77L540.31,154.16L539.81,154.58L539.31,155.02L538.81,155.49L538.31,155.97L537.81,156.48L537.31,157.02L536.81,157.57L536.31,158.15L535.81,158.75L535.30,159.38L534.80,160.02L534.30,160.69L533.80,161.38L533.30,162.09L532.80,162.83L532.30,163.58L531.80,164.36L531.30,165.16L530.80,165.98L530.30,166.82L529.80,167.68L529.30,168.57L528.80,169.47L528.30,170.40L528.30,170.40C526.77,176.62 520.63,201.48 519.10,207.70Z" fill="#e3e3ff" stroke="none"/>
<line x1="528.3" y1="24.6" x2="528.3" y2="238.8" stroke="#cdcdcd" stroke-width="1.3" stroke-dasharray="3 2.4"/>
<line x1="511.2" y1="170.70" x2="683.5" y2="170.70" stroke="#cdcdcd" stroke-width="1.3" stroke-dasharray="3 2.4"/>
<path d="M519.10,176.00L519.60,176.54L520.10,177.11L520.60,177.68L521.10,178.22L521.60,178.70L522.11,179.10L522.61,179.38L523.11,179.54L523.61,179.52L524.11,179.32L524.61,178.91L525.11,178.29L525.61,177.48L526.11,176.48L526.61,175.29L527.12,173.93L527.62,172.40L528.12,170.70L528.62,168.85L529.12,166.86L529.62,164.78L530.12,162.64L530.62,160.46L531.12,158.30L531.62,156.17L532.12,154.13L532.63,152.19L533.13,150.40L533.63,148.74L534.13,147.22L534.63,145.81L535.13,144.51L535.63,143.29L536.13,142.16L536.63,141.09L537.13,140.09L537.64,139.13L538.14,138.23L538.64,137.39L539.14,136.59L539.64,135.85L540.14,135.16L540.64,134.51L541.14,133.92L541.64,133.37L542.14,132.86L542.64,132.40L543.15,131.98L543.65,131.60L544.15,131.26L544.65,130.96L545.15,130.68L545.65,130.44L546.15,130.23L546.65,130.04L547.15,129.88L547.65,129.75L548.16,129.63L548.66,129.53L549.16,129.45L549.66,129.39L550.16,129.33L550.66,129.29L551.16,129.25L551.66,129.22L552.16,129.20L552.66,129.17L553.16,129.15L553.67,129.14L554.17,129.12L554.67,129.11L555.17,129.10L555.67,129.09L556.17,129.09L556.67,129.08L557.17,129.08L557.67,129.08L558.17,129.08L558.68,129.09L559.18,129.09L559.68,129.10L560.18,129.11L560.68,129.12L561.18,129.14L561.68,129.15L562.18,129.17L562.68,129.19L563.18,129.21L563.68,129.23L564.19,129.25L564.69,129.27L565.19,129.30L565.69,129.32L566.19,129.35L566.69,129.38L567.19,129.41L567.69,129.44L568.19,129.47L568.69,129.50L569.20,129.53L569.70,129.57L570.20,129.60L570.70,129.63L571.20,129.67L571.70,129.70L572.20,129.74L572.70,129.77L573.20,129.81L573.70,129.85L574.20,129.88L574.71,129.92L575.21,129.96L575.71,129.99L576.21,130.03L576.71,130.07L577.21,130.10L577.71,130.14L578.21,130.17L578.71,130.21L579.21,130.25L579.72,130.28L580.22,130.31L580.72,130.35L581.22,130.38L581.72,130.42L582.22,130.45L582.72,130.48L583.22,130.51L583.72,130.54L584.22,130.58L584.72,130.61L585.23,130.64L585.73,130.67L586.23,130.70L586.73,130.73L587.23,130.76L587.73,130.79L588.23,130.82L588.73,130.84L589.23,130.87L589.73,130.90L590.24,130.93L590.74,130.95L591.24,130.98L591.74,131.01L592.24,131.03L592.74,131.06L593.24,131.09L593.74,131.11L594.24,131.14L594.74,131.16L595.24,131.19L595.75,131.21L596.25,131.24L596.75,131.26L597.25,131.28L597.75,131.31L598.25,131.33L598.75,131.35L599.25,131.38L599.75,131.40L600.25,131.42L600.76,131.44L601.26,131.46L601.76,131.49L602.26,131.51L602.76,131.53L603.26,131.55L603.76,131.57L604.26,131.59L604.76,131.61L605.26,131.63L605.76,131.65L606.27,131.67L606.77,131.69L607.27,131.71L607.77,131.73L608.27,131.75L608.77,131.77L609.27,131.79L609.77,131.81L610.27,131.83L610.77,131.84L611.28,131.86L611.78,131.88L612.28,131.90L612.78,131.92L613.28,131.94L613.78,131.95L614.28,131.97L614.78,131.99L615.28,132.01L615.78,132.02L616.28,132.04L616.79,132.06L617.29,132.07L617.79,132.09L618.29,132.11L618.79,132.13L619.29,132.14L619.79,132.16L620.29,132.18L620.79,132.19L621.29,132.21L621.80,132.22L622.30,132.24L622.80,132.26L623.30,132.27L623.80,132.29L624.30,132.31L624.80,132.32L625.30,132.34L625.80,132.35L626.30,132.37L626.80,132.39L627.31,132.40L627.81,132.42L628.31,132.44L628.81,132.45L629.31,132.47L629.81,132.48L630.31,132.50L630.81,132.52L631.31,132.53L631.81,132.55L632.32,132.56L632.82,132.58L633.32,132.60L633.82,132.61L634.32,132.63L634.82,132.65L635.32,132.66L635.82,132.68L636.32,132.70L636.82,132.71L637.32,132.73L637.83,132.75L638.33,132.76L638.83,132.78L639.33,132.80L639.83,132.81L640.33,132.83L640.83,132.85L641.33,132.87L641.83,132.88L642.33,132.90L642.84,132.92L643.34,132.94L643.84,132.95L644.34,132.97L644.84,132.99L645.34,133.01L645.84,133.03L646.34,133.05L646.84,133.06L647.34,133.08L647.84,133.10L648.35,133.12L648.85,133.14L649.35,133.16L649.85,133.18L650.35,133.20L650.85,133.22L651.35,133.24L651.85,133.26L652.35,133.28L652.85,133.30L653.36,133.32L653.86,133.34L654.36,133.37L654.86,133.39L655.36,133.41L655.86,133.43L656.36,133.45L656.86,133.48L657.36,133.50L657.86,133.52L658.36,133.54L658.87,133.57L659.37,133.59L659.87,133.62L660.37,133.64L660.87,133.66L661.37,133.69L661.87,133.71L662.37,133.74L662.87,133.76L663.37,133.79L663.88,133.82L664.38,133.84L664.88,133.87L665.38,133.89L665.88,133.92L666.38,133.95L666.88,133.98L667.38,134.00L667.88,134.03L668.38,134.06L668.88,134.09L669.39,134.12L669.89,134.15L670.39,134.18L670.89,134.21L671.39,134.24L671.89,134.27L672.39,134.30L672.89,134.33L673.39,134.37L673.89,134.40L674.40,134.43L674.90,134.46L675.40,134.50L675.90,134.53L676.40,134.57L676.90,134.60" fill="none" stroke="#e4516c" stroke-width="1.45" stroke-linejoin="round" stroke-linecap="butt"/>
<path d="M511.2,24.6V238.8H683.5" fill="none" stroke="#000" stroke-width="1.3" stroke-linecap="square"/>
<line x1="509.0" y1="170.4" x2="511.2" y2="170.4" stroke="#707070" stroke-width="0.9"/>
<text x="507.5" y="173.00" text-anchor="end" font-size="8.3" fill="#5f5f5f" stroke="#5f5f5f" stroke-width="0.08">1.00</text>
<line x1="509.0" y1="100.9" x2="511.2" y2="100.9" stroke="#707070" stroke-width="0.9"/>
<text x="507.5" y="103.50" text-anchor="end" font-size="8.3" fill="#5f5f5f" stroke="#5f5f5f" stroke-width="0.08">1.05</text>
<line x1="509.0" y1="31.4" x2="511.2" y2="31.4" stroke="#707070" stroke-width="0.9"/>
<text x="507.5" y="34.00" text-anchor="end" font-size="8.3" fill="#5f5f5f" stroke="#5f5f5f" stroke-width="0.08">1.10</text>
<line x1="518.9" y1="238.8" x2="518.9" y2="241.0" stroke="#707070" stroke-width="0.9"/>
<text x="519.30" y="249.30" text-anchor="middle" font-size="8.3" fill="#5f5f5f" stroke="#5f5f5f" stroke-width="0.08">1</text>
<line x1="563.9" y1="238.8" x2="563.9" y2="241.0" stroke="#707070" stroke-width="0.9"/>
<text x="564.30" y="249.30" text-anchor="middle" font-size="8.3" fill="#5f5f5f" stroke="#5f5f5f" stroke-width="0.08">201</text>
<line x1="609.0" y1="238.8" x2="609.0" y2="241.0" stroke="#707070" stroke-width="0.9"/>
<text x="609.40" y="249.30" text-anchor="middle" font-size="8.3" fill="#5f5f5f" stroke="#5f5f5f" stroke-width="0.08">401</text>
<line x1="654.0" y1="238.8" x2="654.0" y2="241.0" stroke="#707070" stroke-width="0.9"/>
<text x="654.40" y="249.30" text-anchor="middle" font-size="8.3" fill="#5f5f5f" stroke="#5f5f5f" stroke-width="0.08">601</text>
<text x="524.2" y="37.8" font-size="9.7" fill="#000" stroke="#000" stroke-width="0.12"><tspan font-style="italic">P</tspan>-overall &lt;0.0001</text>
<text x="524.2" y="49.8" font-size="9.7" fill="#000" stroke="#000" stroke-width="0.12"><tspan font-style="italic">P</tspan>-non-linear 0.0029</text>
<text x="592.0" y="268.60" text-anchor="middle" font-size="11.3" fill="#000" stroke="#000" stroke-width="0.12">LAP</text>
<text transform="translate(483.5,129.0) rotate(-90)" x="0" y="0" text-anchor="middle" font-size="9.8" fill="#000" stroke="#000" stroke-width="0.12">OR (95% CI)</text>
<text x="472.2" y="11.9" font-size="16.4" fill="#000" stroke="#000" stroke-width="0.12">C</text>
<path d="M42.10,424.00L42.60,421.30L43.10,418.74L43.60,416.32L44.10,414.04L44.60,411.90L45.11,409.88L45.61,407.99L46.11,406.23L46.61,404.57L47.11,403.04L47.61,401.61L48.11,400.28L48.61,399.06L49.11,397.93L49.61,396.90L50.12,395.95L50.62,395.09L51.12,394.31L51.62,393.61L52.12,392.98L52.62,392.42L53.12,391.92L53.62,391.49L54.12,391.11L54.62,390.78L55.13,390.50L55.63,390.27L56.13,390.07L56.63,389.92L57.13,389.79L57.63,389.69L58.13,389.62L58.63,389.57L59.13,389.53L59.63,389.51L60.13,389.49L60.64,389.48L61.14,389.46L61.64,389.45L62.14,389.42L62.64,389.39L63.14,389.35L63.64,389.30L64.14,389.24L64.64,389.18L65.14,389.11L65.65,389.03L66.15,388.94L66.65,388.85L67.15,388.75L67.65,388.64L68.15,388.53L68.65,388.41L69.15,388.29L69.65,388.15L70.15,388.01L70.66,387.87L71.16,387.72L71.66,387.56L72.16,387.40L72.66,387.23L73.16,387.06L73.66,386.88L74.16,386.70L74.66,386.51L75.16,386.31L75.67,386.12L76.17,385.91L76.67,385.71L77.17,385.49L77.67,385.28L78.17,385.06L78.67,384.83L79.17,384.60L79.67,384.37L80.17,384.13L80.67,383.89L81.18,383.65L81.68,383.40L82.18,383.15L82.68,382.90L83.18,382.65L83.68,382.39L84.18,382.12L84.68,381.86L85.18,381.59L85.68,381.32L86.19,381.05L86.69,380.77L87.19,380.49L87.69,380.21L88.19,379.92L88.69,379.63L89.19,379.34L89.69,379.05L90.19,378.76L90.69,378.46L91.20,378.16L91.70,377.86L92.20,377.55L92.70,377.25L93.20,376.94L93.70,376.63L94.20,376.32L94.70,376.00L95.20,375.69L95.70,375.37L96.20,375.05L96.71,374.72L97.21,374.40L97.71,374.08L98.21,373.75L98.71,373.42L99.21,373.09L99.71,372.76L100.21,372.43L100.71,372.09L101.21,371.76L101.72,371.42L102.22,371.08L102.72,370.74L103.22,370.40L103.72,370.06L104.22,369.72L104.72,369.37L105.22,369.03L105.72,368.68L106.22,368.34L106.73,367.99L107.23,367.64L107.73,367.30L108.23,366.95L108.73,366.60L109.23,366.25L109.73,365.90L110.23,365.55L110.73,365.20L111.23,364.85L111.73,364.50L112.24,364.14L112.74,363.79L113.24,363.44L113.74,363.09L114.24,362.74L114.74,362.38L115.24,362.03L115.74,361.68L116.24,361.33L116.74,360.98L117.25,360.63L117.75,360.28L118.25,359.93L118.75,359.58L119.25,359.23L119.75,358.88L120.25,358.53L120.75,358.19L121.25,357.84L121.75,357.50L122.26,357.15L122.76,356.81L123.26,356.46L123.76,356.12L124.26,355.77L124.76,355.43L125.26,355.09L125.76,354.75L126.26,354.41L126.76,354.07L127.27,353.73L127.77,353.39L128.27,353.05L128.77,352.71L129.27,352.37L129.77,352.04L130.27,351.70L130.77,351.36L131.27,351.03L131.77,350.69L132.27,350.35L132.78,350.02L133.28,349.68L133.78,349.35L134.28,349.02L134.78,348.68L135.28,348.35L135.78,348.02L136.28,347.68L136.78,347.35L137.28,347.02L137.79,346.69L138.29,346.36L138.79,346.03L139.29,345.69L139.79,345.36L140.29,345.03L140.79,344.70L141.29,344.37L141.79,344.04L142.29,343.71L142.80,343.39L143.30,343.06L143.80,342.73L144.30,342.40L144.80,342.07L145.30,341.74L145.80,341.41L146.30,341.08L146.80,340.76L147.30,340.43L147.80,340.10L148.31,339.77L148.81,339.45L149.31,339.12L149.81,338.79L150.31,338.46L150.81,338.14L151.31,337.81L151.81,337.48L152.31,337.15L152.81,336.83L153.32,336.50L153.82,336.17L154.32,335.84L154.82,335.52L155.32,335.19L155.82,334.86L156.32,334.53L156.82,334.21L157.32,333.88L157.82,333.55L158.33,333.22L158.83,332.89L159.33,332.57L159.83,332.24L160.33,331.91L160.83,331.58L161.33,331.25L161.83,330.92L162.33,330.59L162.83,330.26L163.33,329.93L163.84,329.60L164.34,329.27L164.84,328.94L165.34,328.61L165.84,328.28L166.34,327.95L166.84,327.62L167.34,327.29L167.84,326.96L168.34,326.63L168.85,326.29L169.35,325.96L169.85,325.63L170.35,325.29L170.85,324.96L171.35,324.63L171.85,324.29L172.35,323.96L172.85,323.62L173.35,323.29L173.86,322.95L174.36,322.61L174.86,322.28L175.36,321.94L175.86,321.60L176.36,321.26L176.86,320.93L177.36,320.59L177.86,320.25L178.36,319.91L178.87,319.57L179.37,319.23L179.87,318.88L180.37,318.54L180.87,318.20L181.37,317.86L181.87,317.51L182.37,317.17L182.87,316.82L183.37,316.48L183.87,316.13L184.38,315.79L184.88,315.44L185.38,315.09L185.88,314.74L186.38,314.39L186.88,314.04L187.38,313.69L187.88,313.34L188.38,312.99L188.88,312.64L189.39,312.28L189.89,311.93L190.39,311.58L190.89,311.22L191.39,310.86L191.89,310.51L192.39,310.15L192.89,309.79L193.39,309.43L193.89,309.07L194.40,308.71L194.90,308.35L195.40,307.99L195.90,307.62L196.40,307.26L196.90,306.90L196.90,500.60L196.40,500.36L195.90,500.12L195.40,499.88L194.90,499.63L194.40,499.39L193.89,499.15L193.39,498.91L192.89,498.66L192.39,498.42L191.89,498.18L191.39,497.93L190.89,497.69L190.39,497.44L189.89,497.20L189.39,496.95L188.88,496.71L188.38,496.46L187.88,496.22L187.38,495.97L186.88,495.72L186.38,495.48L185.88,495.23L185.38,494.98L184.88,494.73L184.38,494.48L183.87,494.23L183.37,493.99L182.87,493.74L182.37,493.49L181.87,493.24L181.37,492.99L180.87,492.73L180.37,492.48L179.87,492.23L179.37,491.98L178.87,491.73L178.36,491.47L177.86,491.22L177.36,490.97L176.86,490.71L176.36,490.46L175.86,490.20L175.36,489.95L174.86,489.69L174.36,489.44L173.86,489.18L173.35,488.93L172.85,488.67L172.35,488.41L171.85,488.15L171.35,487.90L170.85,487.64L170.35,487.38L169.85,487.12L169.35,486.86L168.85,486.60L168.34,486.34L167.84,486.08L167.34,485.82L166.84,485.56L166.34,485.29L165.84,485.03L165.34,484.77L164.84,484.50L164.34,484.24L163.84,483.98L163.33,483.71L162.83,483.45L162.33,483.18L161.83,482.92L161.33,482.65L160.83,482.38L160.33,482.11L159.83,481.85L159.33,481.58L158.83,481.31L158.33,481.04L157.82,480.77L157.32,480.50L156.82,480.23L156.32,479.96L155.82,479.69L155.32,479.42L154.82,479.14L154.32,478.87L153.82,478.60L153.32,478.33L152.81,478.05L152.31,477.78L151.81,477.50L151.31,477.23L150.81,476.95L150.31,476.67L149.81,476.40L149.31,476.12L148.81,475.84L148.31,475.56L147.80,475.28L147.30,475.00L146.80,474.72L146.30,474.44L145.80,474.16L145.30,473.88L144.80,473.60L144.30,473.32L143.80,473.03L143.30,472.75L142.80,472.46L142.29,472.18L141.79,471.89L141.29,471.61L140.79,471.32L140.29,471.04L139.79,470.75L139.29,470.46L138.79,470.17L138.29,469.88L137.79,469.59L137.28,469.30L136.78,469.01L136.28,468.72L135.78,468.43L135.28,468.14L134.78,467.85L134.28,467.55L133.78,467.26L133.28,466.97L132.78,466.67L132.27,466.38L131.77,466.08L131.27,465.78L130.77,465.49L130.27,465.19L129.77,464.89L129.27,464.59L128.77,464.29L128.27,463.99L127.77,463.69L127.27,463.39L126.76,463.09L126.26,462.79L125.76,462.48L125.26,462.18L124.76,461.87L124.26,461.57L123.76,461.26L123.26,460.96L122.76,460.65L122.26,460.35L121.75,460.04L121.25,459.73L120.75,459.42L120.25,459.11L119.75,458.80L119.25,458.49L118.75,458.18L118.25,457.87L117.75,457.55L117.25,457.24L116.74,456.93L116.24,456.61L115.74,456.30L115.24,455.98L114.74,455.66L114.24,455.35L113.74,455.03L113.24,454.71L112.74,454.39L112.24,454.07L111.73,453.75L111.23,453.43L110.73,453.11L110.23,452.79L109.73,452.47L109.23,452.15L108.73,451.82L108.23,451.50L107.73,451.18L107.23,450.85L106.73,450.53L106.22,450.21L105.72,449.88L105.22,449.56L104.72,449.24L104.22,448.91L103.72,448.59L103.22,448.26L102.72,447.94L102.22,447.62L101.72,447.29L101.21,446.97L100.71,446.65L100.21,446.32L99.71,446.00L99.21,445.68L98.71,445.36L98.21,445.04L97.71,444.71L97.21,444.39L96.71,444.07L96.20,443.75L95.70,443.44L95.20,443.12L94.70,442.80L94.20,442.48L93.70,442.17L93.20,441.85L92.70,441.53L92.20,441.22L91.70,440.91L91.20,440.59L90.69,440.28L90.19,439.97L89.69,439.66L89.19,439.35L88.69,439.05L88.19,438.74L87.69,438.43L87.19,438.13L86.69,437.82L86.19,437.52L85.68,437.22L85.18,436.92L84.68,436.62L84.18,436.33L83.68,436.03L83.18,435.74L82.68,435.44L82.18,435.15L81.68,434.86L81.18,434.57L80.67,434.29L80.17,434.00L79.67,433.72L79.17,433.44L78.67,433.16L78.17,432.88L77.67,432.60L77.17,432.32L76.67,432.05L76.17,431.78L75.67,431.51L75.16,431.24L74.66,430.98L74.16,430.71L73.66,430.45L73.16,430.19L72.66,429.94L72.16,429.68L71.66,429.43L71.16,429.18L70.66,428.93L70.15,428.68L69.65,428.44L69.15,428.20L68.65,427.96L68.15,427.72L67.65,427.48L67.15,427.25L66.65,427.02L66.15,426.80L65.65,426.57L65.14,426.35L64.64,426.13L64.14,425.92L63.64,425.71L63.14,425.51L62.64,425.31L62.14,425.11L61.64,424.92L61.14,424.74L60.64,424.56L60.13,424.39L59.63,424.23L59.13,424.07L58.63,423.92L58.13,423.77L57.63,423.64L57.13,423.51L56.63,423.39L56.13,423.28L55.63,423.18L55.13,423.08L54.62,423.00L54.12,422.93L53.62,422.86L53.12,422.81L52.62,422.77L52.12,422.73L51.62,422.71L51.12,422.70L50.62,422.71L50.12,422.72L49.61,422.75L49.11,422.79L48.61,422.83L48.11,422.88L47.61,422.92L47.11,422.97L46.61,423.01L46.11,423.04L45.61,423.06L45.11,423.07L44.60,423.08L44.10,423.16L43.60,423.36L43.10,423.74L42.60,424.37L42.10,425.30Z" fill="#e3e3ff" stroke="none"/>
<line x1="43.5" y1="296.1" x2="43.5" y2="511.0" stroke="#cdcdcd" stroke-width="1.3" stroke-dasharray="3 2.4"/>
<line x1="33.6" y1="423.20" x2="205.8" y2="423.20" stroke="#cdcdcd" stroke-width="1.3" stroke-dasharray="3 2.4"/>
<path d="M42.10,424.70L42.60,423.85L43.10,422.84L43.60,421.71L44.10,420.50L44.60,419.26L45.11,418.04L45.61,416.87L46.11,415.77L46.61,414.75L47.11,413.80L47.61,412.92L48.11,412.11L48.61,411.38L49.11,410.72L49.61,410.13L50.12,409.62L50.62,409.17L51.12,408.79L51.62,408.46L52.12,408.19L52.62,407.97L53.12,407.79L53.62,407.64L54.12,407.53L54.62,407.43L55.13,407.35L55.63,407.29L56.13,407.23L56.63,407.17L57.13,407.13L57.63,407.08L58.13,407.04L58.63,407.01L59.13,406.98L59.63,406.95L60.13,406.93L60.64,406.91L61.14,406.89L61.64,406.88L62.14,406.87L62.64,406.86L63.14,406.86L63.64,406.86L64.14,406.85L64.64,406.85L65.14,406.85L65.65,406.86L66.15,406.86L66.65,406.86L67.15,406.87L67.65,406.87L68.15,406.87L68.65,406.88L69.15,406.88L69.65,406.88L70.15,406.89L70.66,406.89L71.16,406.89L71.66,406.90L72.16,406.90L72.66,406.90L73.16,406.91L73.66,406.91L74.16,406.91L74.66,406.92L75.16,406.92L75.67,406.92L76.17,406.93L76.67,406.93L77.17,406.93L77.67,406.94L78.17,406.94L78.67,406.94L79.17,406.95L79.67,406.95L80.17,406.95L80.67,406.96L81.18,406.96L81.68,406.96L82.18,406.97L82.68,406.97L83.18,406.97L83.68,406.98L84.18,406.98L84.68,406.98L85.18,406.99L85.68,406.99L86.19,407.00L86.69,407.00L87.19,407.00L87.69,407.01L88.19,407.01L88.69,407.01L89.19,407.02L89.69,407.02L90.19,407.02L90.69,407.03L91.20,407.03L91.70,407.04L92.20,407.04L92.70,407.04L93.20,407.05L93.70,407.05L94.20,407.05L94.70,407.06L95.20,407.06L95.70,407.07L96.20,407.07L96.71,407.07L97.21,407.08L97.71,407.08L98.21,407.08L98.71,407.09L99.21,407.09L99.71,407.10L100.21,407.10L100.71,407.10L101.21,407.11L101.72,407.11L102.22,407.12L102.72,407.12L103.22,407.12L103.72,407.13L104.22,407.13L104.72,407.13L105.22,407.14L105.72,407.14L106.22,407.15L106.73,407.15L107.23,407.15L107.73,407.16L108.23,407.16L108.73,407.17L109.23,407.17L109.73,407.17L110.23,407.18L110.73,407.18L111.23,407.19L111.73,407.19L112.24,407.19L112.74,407.20L113.24,407.20L113.74,407.21L114.24,407.21L114.74,407.22L115.24,407.22L115.74,407.22L116.24,407.23L116.74,407.23L117.25,407.24L117.75,407.24L118.25,407.24L118.75,407.25L119.25,407.25L119.75,407.26L120.25,407.26L120.75,407.26L121.25,407.27L121.75,407.27L122.26,407.28L122.76,407.28L123.26,407.29L123.76,407.29L124.26,407.29L124.76,407.30L125.26,407.30L125.76,407.31L126.26,407.31L126.76,407.32L127.27,407.32L127.77,407.32L128.27,407.33L128.77,407.33L129.27,407.34L129.77,407.34L130.27,407.35L130.77,407.35L131.27,407.36L131.77,407.36L132.27,407.36L132.78,407.37L133.28,407.37L133.78,407.38L134.28,407.38L134.78,407.39L135.28,407.39L135.78,407.39L136.28,407.40L136.78,407.40L137.28,407.41L137.79,407.41L138.29,407.42L138.79,407.42L139.29,407.43L139.79,407.43L140.29,407.44L140.79,407.44L141.29,407.44L141.79,407.45L142.29,407.45L142.80,407.46L143.30,407.46L143.80,407.47L144.30,407.47L144.80,407.48L145.30,407.48L145.80,407.49L146.30,407.49L146.80,407.50L147.30,407.50L147.80,407.50L148.31,407.51L148.81,407.51L149.31,407.52L149.81,407.52L150.31,407.53L150.81,407.53L151.31,407.54L151.81,407.54L152.31,407.55L152.81,407.55L153.32,407.56L153.82,407.56L154.32,407.57L154.82,407.57L155.32,407.58L155.82,407.58L156.32,407.58L156.82,407.59L157.32,407.59L157.82,407.60L158.33,407.60L158.83,407.61L159.33,407.61L159.83,407.62L160.33,407.62L160.83,407.63L161.33,407.63L161.83,407.64L162.33,407.64L162.83,407.65L163.33,407.65L163.84,407.66L164.34,407.66L164.84,407.67L165.34,407.67L165.84,407.68L166.34,407.68L166.84,407.69L167.34,407.69L167.84,407.70L168.34,407.70L168.85,407.71L169.35,407.71L169.85,407.72L170.35,407.72L170.85,407.73L171.35,407.73L171.85,407.74L172.35,407.74L172.85,407.75L173.35,407.75L173.86,407.76L174.36,407.76L174.86,407.77L175.36,407.77L175.86,407.78L176.36,407.78L176.86,407.79L177.36,407.79L177.86,407.80L178.36,407.80L178.87,407.81L179.37,407.81L179.87,407.82L180.37,407.82L180.87,407.83L181.37,407.84L181.87,407.84L182.37,407.85L182.87,407.85L183.37,407.86L183.87,407.86L184.38,407.87L184.88,407.87L185.38,407.88L185.88,407.88L186.38,407.89L186.88,407.89L187.38,407.90L187.88,407.90L188.38,407.91L188.88,407.91L189.39,407.92L189.89,407.92L190.39,407.93L190.89,407.94L191.39,407.94L191.89,407.95L192.39,407.95L192.89,407.96L193.39,407.96L193.89,407.97L194.40,407.97L194.90,407.98L195.40,407.98L195.90,407.99L196.40,407.99L196.90,408.00" fill="none" stroke="#e4516c" stroke-width="1.45" stroke-linejoin="round" stroke-linecap="butt"/>
<path d="M33.6,296.1V511.0H205.8" fill="none" stroke="#000" stroke-width="1.3" stroke-linecap="square"/>
<line x1="31.400000000000002" y1="477.7" x2="33.6" y2="477.7" stroke="#707070" stroke-width="0.9"/>
<text x="29.900000000000002" y="480.30" text-anchor="end" font-size="8.3" fill="#5f5f5f" stroke="#5f5f5f" stroke-width="0.08">0.95</text>
<line x1="31.400000000000002" y1="422.9" x2="33.6" y2="422.9" stroke="#707070" stroke-width="0.9"/>
<text x="29.900000000000002" y="425.50" text-anchor="end" font-size="8.3" fill="#5f5f5f" stroke="#5f5f5f" stroke-width="0.08">1.00</text>
<line x1="31.400000000000002" y1="368.1" x2="33.6" y2="368.1" stroke="#707070" stroke-width="0.9"/>
<text x="29.900000000000002" y="370.70" text-anchor="end" font-size="8.3" fill="#5f5f5f" stroke="#5f5f5f" stroke-width="0.08">1.05</text>
<line x1="31.400000000000002" y1="313.3" x2="33.6" y2="313.3" stroke="#707070" stroke-width="0.9"/>
<text x="29.900000000000002" y="315.90" text-anchor="end" font-size="8.3" fill="#5f5f5f" stroke="#5f5f5f" stroke-width="0.08">1.10</text>
<line x1="41.7" y1="511.0" x2="41.7" y2="513.2" stroke="#707070" stroke-width="0.9"/>
<text x="43.10" y="522.30" text-anchor="middle" font-size="8.3" fill="#5f5f5f" stroke="#5f5f5f" stroke-width="0.08">1</text>
<line x1="71.46000000000001" y1="511.0" x2="71.46000000000001" y2="513.2" stroke="#707070" stroke-width="0.9"/>
<text x="74.16" y="522.30" text-anchor="middle" font-size="8.3" fill="#5f5f5f" stroke="#5f5f5f" stroke-width="0.08">9</text>
<line x1="101.22" y1="511.0" x2="101.22" y2="513.2" stroke="#707070" stroke-width="0.9"/>
<text x="101.62" y="522.30" text-anchor="middle" font-size="8.3" fill="#5f5f5f" stroke="#5f5f5f" stroke-width="0.08">17</text>
<line x1="130.98000000000002" y1="511.0" x2="130.98000000000002" y2="513.2" stroke="#707070" stroke-width="0.9"/>
<text x="131.38" y="522.30" text-anchor="middle" font-size="8.3" fill="#5f5f5f" stroke="#5f5f5f" stroke-width="0.08">25</text>
<line x1="160.74" y1="511.0" x2="160.74" y2="513.2" stroke="#707070" stroke-width="0.9"/>
<text x="161.14" y="522.30" text-anchor="middle" font-size="8.3" fill="#5f5f5f" stroke="#5f5f5f" stroke-width="0.08">33</text>
<line x1="190.5" y1="511.0" x2="190.5" y2="513.2" stroke="#707070" stroke-width="0.9"/>
<text x="190.90" y="522.30" text-anchor="middle" font-size="8.3" fill="#5f5f5f" stroke="#5f5f5f" stroke-width="0.08">41</text>
<text x="57.4" y="313.1" font-size="9.7" fill="#000" stroke="#000" stroke-width="0.12"><tspan font-style="italic">P</tspan>-overall 0.2054</text>
<text x="57.4" y="324.8" font-size="9.7" fill="#000" stroke="#000" stroke-width="0.12"><tspan font-style="italic">P</tspan>-non-linear 0.2143</text>
<text x="114.6" y="541.20" text-anchor="middle" font-size="11.3" fill="#000" stroke="#000" stroke-width="0.12">VAI</text>
<text transform="translate(9.8,402.0) rotate(-90)" x="0" y="0" text-anchor="middle" font-size="9.8" fill="#000" stroke="#000" stroke-width="0.12">OR (95% CI)</text>
<text x="-0.3" y="290.7" font-size="16.4" fill="#000" stroke="#000" stroke-width="0.12">D</text>
<path d="M282.10,351.30L282.60,352.25L283.10,353.18L283.60,354.08L284.11,354.97L284.61,355.84L285.11,356.69L285.61,357.53L286.11,358.34L286.61,359.14L287.12,359.93L287.62,360.70L288.12,361.46L288.62,362.20L289.12,362.94L289.62,363.66L290.13,364.37L290.63,365.07L291.13,365.76L291.63,366.45L292.13,367.12L292.63,367.79L293.14,368.46L293.64,369.11L294.14,369.77L294.64,370.42L295.14,371.06L295.64,371.71L296.15,372.35L296.65,372.99L297.15,373.63L297.65,374.27L298.15,374.91L298.65,375.56L299.15,376.21L299.66,376.86L300.16,377.51L300.66,378.17L301.16,378.84L301.66,379.51L302.16,380.19L302.67,380.87L303.17,381.56L303.67,382.25L304.17,382.94L304.67,383.63L305.17,384.32L305.68,385.01L306.18,385.71L306.68,386.39L307.18,387.08L307.68,387.76L308.18,388.44L308.69,389.11L309.19,389.78L309.69,390.44L310.19,391.09L310.69,391.73L311.19,392.36L311.70,392.98L312.20,393.59L312.70,394.19L313.20,394.78L313.70,395.35L314.20,395.91L314.70,396.45L315.21,396.97L315.71,397.48L316.21,397.97L316.71,398.44L317.21,398.89L317.71,399.32L318.22,399.73L318.72,400.11L319.22,400.48L319.72,400.82L320.22,401.15L320.72,401.45L321.23,401.74L321.73,402.00L322.23,402.25L322.73,402.48L323.23,402.70L323.73,402.90L324.24,403.08L324.74,403.25L325.24,403.40L325.74,403.54L326.24,403.66L326.74,403.78L327.25,403.88L327.75,403.97L328.25,404.05L328.75,404.12L329.25,404.17L329.75,404.22L330.25,404.26L330.76,404.29L331.26,404.32L331.76,404.34L332.26,404.35L332.76,404.35L333.26,404.35L333.77,404.35L334.27,404.34L334.77,404.33L335.27,404.31L335.77,404.30L336.27,404.28L336.78,404.26L337.28,404.23L337.78,404.21L338.28,404.19L338.78,404.17L339.28,404.16L339.79,404.14L340.29,404.13L340.79,404.12L341.29,404.11L341.79,404.11L342.29,404.12L342.80,404.13L343.30,404.15L343.80,404.17L344.30,404.20L344.30,404.20L344.80,402.97L345.30,401.77L345.80,400.60L346.31,399.46L346.81,398.35L347.31,397.28L347.81,396.23L348.31,395.22L348.81,394.23L349.32,393.27L349.82,392.35L350.32,391.44L350.82,390.57L351.32,389.72L351.82,388.91L352.33,388.11L352.83,387.34L353.33,386.60L353.83,385.88L354.33,385.19L354.83,384.52L355.34,383.88L355.84,383.26L356.34,382.66L356.84,382.08L357.34,381.52L357.84,380.99L358.35,380.48L358.85,379.99L359.35,379.51L359.85,379.06L360.35,378.63L360.85,378.21L361.36,377.82L361.86,377.44L362.36,377.08L362.86,376.73L363.36,376.41L363.86,376.09L364.37,375.80L364.87,375.52L365.37,375.25L365.87,374.99L366.37,374.75L366.87,374.52L367.38,374.31L367.88,374.10L368.38,373.90L368.88,373.72L369.38,373.54L369.88,373.38L370.38,373.22L370.89,373.07L371.39,372.92L371.89,372.79L372.39,372.66L372.89,372.53L373.39,372.41L373.90,372.29L374.40,372.18L374.90,372.07L375.40,371.97L375.90,371.86L376.40,371.76L376.91,371.66L377.41,371.55L377.91,371.45L378.41,371.35L378.91,371.25L379.41,371.14L379.92,371.03L380.42,370.92L380.92,370.80L381.42,370.68L381.92,370.56L382.42,370.43L382.93,370.29L383.43,370.15L383.93,370.00L384.43,369.84L384.93,369.68L385.43,369.51L385.94,369.33L386.44,369.14L386.94,368.94L387.44,368.74L387.94,368.53L388.44,368.31L388.95,368.08L389.45,367.85L389.95,367.61L390.45,367.37L390.95,367.11L391.45,366.85L391.95,366.58L392.46,366.31L392.96,366.03L393.46,365.74L393.96,365.44L394.46,365.14L394.96,364.83L395.47,364.52L395.97,364.20L396.47,363.87L396.97,363.54L397.47,363.20L397.97,362.85L398.48,362.50L398.98,362.14L399.48,361.78L399.98,361.41L400.48,361.03L400.98,360.65L401.49,360.27L401.99,359.88L402.49,359.49L402.99,359.09L403.49,358.70L403.99,358.30L404.50,357.89L405.00,357.49L405.50,357.08L406.00,356.68L406.50,356.27L407.00,355.86L407.51,355.45L408.01,355.04L408.51,354.64L409.01,354.23L409.51,353.83L410.01,353.42L410.52,353.02L411.02,352.62L411.52,352.23L412.02,351.84L412.52,351.45L413.02,351.06L413.53,350.68L414.03,350.30L414.53,349.93L415.03,349.57L415.53,349.20L416.03,348.84L416.53,348.49L417.04,348.14L417.54,347.79L418.04,347.44L418.54,347.10L419.04,346.76L419.54,346.43L420.05,346.09L420.55,345.76L421.05,345.44L421.55,345.11L422.05,344.79L422.55,344.47L423.06,344.15L423.56,343.83L424.06,343.51L424.56,343.19L425.06,342.88L425.56,342.57L426.07,342.25L426.57,341.94L427.07,341.63L427.57,341.32L428.07,341.01L428.57,340.70L429.08,340.39L429.58,340.08L430.08,339.76L430.58,339.45L431.08,339.14L431.58,338.82L432.09,338.51L432.59,338.19L433.09,337.88L433.59,337.56L434.09,337.24L434.59,336.91L435.10,336.59L435.60,336.26L436.10,335.93L436.60,335.60L436.60,461.20L436.10,460.88L435.60,460.55L435.10,460.21L434.59,459.87L434.09,459.52L433.59,459.17L433.09,458.80L432.59,458.43L432.09,458.06L431.58,457.68L431.08,457.29L430.58,456.90L430.08,456.50L429.58,456.10L429.08,455.69L428.57,455.28L428.07,454.86L427.57,454.43L427.07,454.01L426.57,453.57L426.07,453.13L425.56,452.69L425.06,452.24L424.56,451.79L424.06,451.34L423.56,450.88L423.06,450.41L422.55,449.95L422.05,449.48L421.55,449.00L421.05,448.53L420.55,448.05L420.05,447.56L419.54,447.08L419.04,446.59L418.54,446.10L418.04,445.60L417.54,445.10L417.04,444.60L416.53,444.10L416.03,443.60L415.53,443.09L415.03,442.59L414.53,442.08L414.03,441.57L413.53,441.06L413.02,440.54L412.52,440.03L412.02,439.51L411.52,439.00L411.02,438.48L410.52,437.96L410.01,437.44L409.51,436.92L409.01,436.40L408.51,435.87L408.01,435.35L407.51,434.83L407.00,434.30L406.50,433.78L406.00,433.25L405.50,432.72L405.00,432.19L404.50,431.67L403.99,431.14L403.49,430.61L402.99,430.09L402.49,429.56L401.99,429.04L401.49,428.51L400.98,427.99L400.48,427.47L399.98,426.95L399.48,426.43L398.98,425.92L398.48,425.41L397.97,424.90L397.47,424.39L396.97,423.89L396.47,423.39L395.97,422.89L395.47,422.40L394.96,421.91L394.46,421.42L393.96,420.94L393.46,420.46L392.96,419.99L392.46,419.53L391.95,419.06L391.45,418.61L390.95,418.16L390.45,417.71L389.95,417.27L389.45,416.84L388.95,416.41L388.44,415.99L387.94,415.58L387.44,415.17L386.94,414.77L386.44,414.37L385.94,413.98L385.43,413.60L384.93,413.22L384.43,412.85L383.93,412.49L383.43,412.13L382.93,411.78L382.42,411.44L381.92,411.11L381.42,410.78L380.92,410.46L380.42,410.15L379.92,409.84L379.41,409.54L378.91,409.25L378.41,408.97L377.91,408.69L377.41,408.43L376.91,408.17L376.40,407.92L375.90,407.67L375.40,407.44L374.90,407.21L374.40,406.99L373.90,406.78L373.39,406.58L372.89,406.39L372.39,406.20L371.89,406.02L371.39,405.86L370.89,405.70L370.38,405.55L369.88,405.41L369.38,405.28L368.88,405.15L368.38,405.04L367.88,404.94L367.38,404.84L366.87,404.76L366.37,404.68L365.87,404.61L365.37,404.55L364.87,404.50L364.37,404.45L363.86,404.42L363.36,404.38L362.86,404.36L362.36,404.34L361.86,404.33L361.36,404.32L360.85,404.32L360.35,404.32L359.85,404.33L359.35,404.34L358.85,404.35L358.35,404.37L357.84,404.39L357.34,404.41L356.84,404.43L356.34,404.46L355.84,404.48L355.34,404.51L354.83,404.54L354.33,404.56L353.83,404.58L353.33,404.61L352.83,404.63L352.33,404.64L351.82,404.66L351.32,404.67L350.82,404.68L350.32,404.68L349.82,404.68L349.32,404.67L348.81,404.66L348.31,404.64L347.81,404.61L347.31,404.58L346.81,404.54L346.31,404.49L345.80,404.43L345.30,404.36L344.80,404.29L344.30,404.20L344.30,404.20L343.80,404.81L343.30,405.50L342.80,406.25L342.29,407.06L341.79,407.92L341.29,408.82L340.79,409.75L340.29,410.70L339.79,411.66L339.28,412.62L338.78,413.57L338.28,414.50L337.78,415.40L337.28,416.26L336.78,417.07L336.27,417.83L335.77,418.55L335.27,419.21L334.77,419.83L334.27,420.41L333.77,420.95L333.26,421.44L332.76,421.90L332.26,422.33L331.76,422.72L331.26,423.07L330.76,423.40L330.25,423.70L329.75,423.98L329.25,424.23L328.75,424.45L328.25,424.66L327.75,424.85L327.25,425.02L326.74,425.18L326.24,425.33L325.74,425.46L325.24,425.59L324.74,425.70L324.24,425.82L323.73,425.93L323.23,426.04L322.73,426.15L322.23,426.26L321.73,426.38L321.23,426.50L320.72,426.62L320.22,426.75L319.72,426.89L319.22,427.03L318.72,427.17L318.22,427.32L317.71,427.47L317.21,427.63L316.71,427.80L316.21,427.97L315.71,428.14L315.21,428.32L314.70,428.50L314.20,428.69L313.70,428.89L313.20,429.09L312.70,429.30L312.20,429.51L311.70,429.73L311.19,429.96L310.69,430.19L310.19,430.42L309.69,430.67L309.19,430.92L308.69,431.17L308.18,431.44L307.68,431.71L307.18,431.98L306.68,432.26L306.18,432.55L305.68,432.85L305.17,433.15L304.67,433.46L304.17,433.78L303.67,434.10L303.17,434.43L302.67,434.77L302.16,435.12L301.66,435.47L301.16,435.84L300.66,436.20L300.16,436.58L299.66,436.97L299.15,437.36L298.65,437.76L298.15,438.17L297.65,438.59L297.15,439.01L296.65,439.44L296.15,439.89L295.64,440.34L295.14,440.80L294.64,441.26L294.14,441.74L293.64,442.22L293.14,442.72L292.63,443.22L292.13,443.73L291.63,444.25L291.13,444.78L290.63,445.32L290.13,445.87L289.62,446.43L289.12,447.00L288.62,447.58L288.12,448.17L287.62,448.76L287.12,449.37L286.61,449.99L286.11,450.61L285.61,451.25L285.11,451.90L284.61,452.56L284.11,453.22L283.60,453.90L283.10,454.59L282.60,455.29L282.10,456.00Z" fill="#e3e3ff" stroke="none"/>
<line x1="344.3" y1="295.5" x2="344.3" y2="512.3" stroke="#cdcdcd" stroke-width="1.3" stroke-dasharray="3 2.4"/>
<line x1="274.0" y1="404.50" x2="444.8" y2="404.50" stroke="#cdcdcd" stroke-width="1.3" stroke-dasharray="3 2.4"/>
<path d="M282.10,404.60L282.60,404.72L283.10,404.84L283.60,404.97L284.11,405.11L284.61,405.24L285.11,405.39L285.61,405.53L286.11,405.69L286.61,405.84L287.11,406.00L287.61,406.16L288.12,406.33L288.62,406.50L289.12,406.67L289.62,406.84L290.12,407.02L290.62,407.20L291.12,407.38L291.62,407.56L292.13,407.75L292.63,407.94L293.13,408.12L293.63,408.31L294.13,408.50L294.63,408.70L295.13,408.89L295.64,409.08L296.14,409.27L296.64,409.47L297.14,409.66L297.64,409.85L298.14,410.04L298.64,410.24L299.14,410.43L299.65,410.62L300.15,410.80L300.65,410.99L301.15,411.18L301.65,411.36L302.15,411.54L302.65,411.72L303.15,411.90L303.66,412.07L304.16,412.24L304.66,412.41L305.16,412.58L305.66,412.74L306.16,412.90L306.66,413.05L307.16,413.21L307.67,413.35L308.17,413.50L308.67,413.64L309.17,413.77L309.67,413.90L310.17,414.02L310.67,414.14L311.18,414.26L311.68,414.36L312.18,414.47L312.68,414.56L313.18,414.65L313.68,414.74L314.18,414.82L314.68,414.89L315.19,414.95L315.69,415.01L316.19,415.06L316.69,415.10L317.19,415.13L317.69,415.16L318.19,415.18L318.69,415.19L319.20,415.19L319.70,415.19L320.20,415.17L320.70,415.15L321.20,415.11L321.70,415.07L322.20,415.02L322.71,414.96L323.21,414.89L323.71,414.80L324.21,414.71L324.71,414.61L325.21,414.50L325.71,414.37L326.21,414.24L326.72,414.09L327.22,413.93L327.72,413.77L328.22,413.59L328.72,413.39L329.22,413.19L329.72,412.98L330.22,412.76L330.73,412.53L331.23,412.29L331.73,412.04L332.23,411.78L332.73,411.52L333.23,411.25L333.73,410.96L334.24,410.68L334.74,410.38L335.24,410.08L335.74,409.77L336.24,409.46L336.74,409.14L337.24,408.81L337.74,408.48L338.25,408.14L338.75,407.80L339.25,407.46L339.75,407.11L340.25,406.76L340.75,406.40L341.25,406.04L341.75,405.68L342.26,405.32L342.76,404.95L343.26,404.59L343.76,404.22L344.26,403.85L344.76,403.48L345.26,403.11L345.76,402.74L346.27,402.37L346.77,402.00L347.27,401.63L347.77,401.26L348.27,400.89L348.77,400.53L349.27,400.16L349.78,399.80L350.28,399.45L350.78,399.09L351.28,398.74L351.78,398.39L352.28,398.05L352.78,397.71L353.28,397.37L353.79,397.04L354.29,396.71L354.79,396.39L355.29,396.07L355.79,395.76L356.29,395.45L356.79,395.15L357.29,394.85L357.80,394.56L358.30,394.28L358.80,394.00L359.30,393.73L359.80,393.46L360.30,393.20L360.80,392.95L361.31,392.70L361.81,392.46L362.31,392.23L362.81,392.01L363.31,391.79L363.81,391.58L364.31,391.38L364.81,391.18L365.32,391.00L365.82,390.82L366.32,390.65L366.82,390.49L367.32,390.34L367.82,390.20L368.32,390.06L368.82,389.94L369.33,389.82L369.83,389.72L370.33,389.62L370.83,389.53L371.33,389.45L371.83,389.38L372.33,389.32L372.84,389.26L373.34,389.21L373.84,389.18L374.34,389.14L374.84,389.12L375.34,389.10L375.84,389.09L376.34,389.09L376.85,389.09L377.35,389.10L377.85,389.11L378.35,389.13L378.85,389.16L379.35,389.19L379.85,389.23L380.35,389.27L380.86,389.32L381.36,389.37L381.86,389.43L382.36,389.49L382.86,389.55L383.36,389.62L383.86,389.69L384.36,389.77L384.87,389.85L385.37,389.93L385.87,390.01L386.37,390.10L386.87,390.19L387.37,390.28L387.87,390.38L388.38,390.47L388.88,390.57L389.38,390.67L389.88,390.77L390.38,390.87L390.88,390.97L391.38,391.08L391.88,391.18L392.39,391.28L392.89,391.39L393.39,391.49L393.89,391.59L394.39,391.70L394.89,391.80L395.39,391.91L395.89,392.01L396.40,392.12L396.90,392.22L397.40,392.33L397.90,392.43L398.40,392.54L398.90,392.64L399.40,392.75L399.91,392.85L400.41,392.96L400.91,393.06L401.41,393.17L401.91,393.27L402.41,393.38L402.91,393.48L403.41,393.59L403.92,393.69L404.42,393.80L404.92,393.90L405.42,394.01L405.92,394.11L406.42,394.22L406.92,394.32L407.42,394.42L407.93,394.53L408.43,394.63L408.93,394.73L409.43,394.84L409.93,394.94L410.43,395.04L410.93,395.14L411.44,395.24L411.94,395.34L412.44,395.45L412.94,395.55L413.44,395.65L413.94,395.75L414.44,395.84L414.94,395.94L415.45,396.04L415.95,396.14L416.45,396.24L416.95,396.33L417.45,396.43L417.95,396.53L418.45,396.62L418.95,396.72L419.46,396.81L419.96,396.91L420.46,397.00L420.96,397.09L421.46,397.18L421.96,397.28L422.46,397.37L422.96,397.46L423.47,397.55L423.97,397.64L424.47,397.72L424.97,397.81L425.47,397.90L425.97,397.98L426.47,398.07L426.98,398.15L427.48,398.24L427.98,398.32L428.48,398.40L428.98,398.48L429.48,398.57L429.98,398.64L430.48,398.72L430.99,398.80L431.49,398.88L431.99,398.96L432.49,399.03L432.99,399.11L433.49,399.18L433.99,399.25L434.49,399.32L435.00,399.39L435.50,399.46L436.00,399.53L436.50,399.60" fill="none" stroke="#e4516c" stroke-width="1.45" stroke-linejoin="round" stroke-linecap="butt"/>
<path d="M274.0,295.5V512.3H444.8" fill="none" stroke="#000" stroke-width="1.3" stroke-linecap="square"/>
<line x1="271.8" y1="504.6" x2="274.0" y2="504.6" stroke="#707070" stroke-width="0.9"/>
<text x="270.3" y="507.20" text-anchor="end" font-size="8.3" fill="#5f5f5f" stroke="#5f5f5f" stroke-width="0.08">0.94</text>
<line x1="271.8" y1="471.1" x2="274.0" y2="471.1" stroke="#707070" stroke-width="0.9"/>
<text x="270.3" y="473.70" text-anchor="end" font-size="8.3" fill="#5f5f5f" stroke="#5f5f5f" stroke-width="0.08">0.96</text>
<line x1="271.8" y1="437.7" x2="274.0" y2="437.7" stroke="#707070" stroke-width="0.9"/>
<text x="270.3" y="440.30" text-anchor="end" font-size="8.3" fill="#5f5f5f" stroke="#5f5f5f" stroke-width="0.08">0.98</text>
<line x1="271.8" y1="404.2" x2="274.0" y2="404.2" stroke="#707070" stroke-width="0.9"/>
<text x="270.3" y="406.80" text-anchor="end" font-size="8.3" fill="#5f5f5f" stroke="#5f5f5f" stroke-width="0.08">1.00</text>
<line x1="271.8" y1="370.7" x2="274.0" y2="370.7" stroke="#707070" stroke-width="0.9"/>
<text x="270.3" y="373.30" text-anchor="end" font-size="8.3" fill="#5f5f5f" stroke="#5f5f5f" stroke-width="0.08">1.02</text>
<line x1="271.8" y1="337.3" x2="274.0" y2="337.3" stroke="#707070" stroke-width="0.9"/>
<text x="270.3" y="339.90" text-anchor="end" font-size="8.3" fill="#5f5f5f" stroke="#5f5f5f" stroke-width="0.08">1.04</text>
<line x1="271.8" y1="303.8" x2="274.0" y2="303.8" stroke="#707070" stroke-width="0.9"/>
<text x="270.3" y="306.40" text-anchor="end" font-size="8.3" fill="#5f5f5f" stroke="#5f5f5f" stroke-width="0.08">1.06</text>
<line x1="281.4" y1="512.3" x2="281.4" y2="514.5" stroke="#707070" stroke-width="0.9"/>
<text x="283.00" y="523.30" text-anchor="middle" font-size="8.3" fill="#5f5f5f" stroke="#5f5f5f" stroke-width="0.08">7</text>
<line x1="320.4" y1="512.3" x2="320.4" y2="514.5" stroke="#707070" stroke-width="0.9"/>
<text x="320.40" y="523.30" text-anchor="middle" font-size="8.3" fill="#5f5f5f" stroke="#5f5f5f" stroke-width="0.08">8</text>
<line x1="359.4" y1="512.3" x2="359.4" y2="514.5" stroke="#707070" stroke-width="0.9"/>
<text x="359.80" y="523.30" text-anchor="middle" font-size="8.3" fill="#5f5f5f" stroke="#5f5f5f" stroke-width="0.08">9</text>
<line x1="398.3" y1="512.3" x2="398.3" y2="514.5" stroke="#707070" stroke-width="0.9"/>
<text x="398.70" y="523.30" text-anchor="middle" font-size="8.3" fill="#5f5f5f" stroke="#5f5f5f" stroke-width="0.08">10</text>
<line x1="437.2" y1="512.3" x2="437.2" y2="514.5" stroke="#707070" stroke-width="0.9"/>
<text x="437.60" y="523.30" text-anchor="middle" font-size="8.3" fill="#5f5f5f" stroke="#5f5f5f" stroke-width="0.08">11</text>
<text x="295.8" y="311.4" font-size="9.7" fill="#000" stroke="#000" stroke-width="0.12"><tspan font-style="italic">P</tspan>-overall 0.2196</text>
<text x="295.8" y="323.4" font-size="9.7" fill="#000" stroke="#000" stroke-width="0.12"><tspan font-style="italic">P</tspan>-non-linear 0.4005</text>
<text x="355.8" y="541.60" text-anchor="middle" font-size="11.3" fill="#000" stroke="#000" stroke-width="0.12">TyG</text>
<text transform="translate(248.8,399.7) rotate(-90)" x="0" y="0" text-anchor="middle" font-size="9.8" fill="#000" stroke="#000" stroke-width="0.12">OR (95% CI)</text>
<text x="235.6" y="290.8" font-size="16.4" fill="#000" stroke="#000" stroke-width="0.12">E</text>
<path d="M522.10,444.90L522.60,445.19L523.10,445.48L523.61,445.78L524.11,446.07L524.61,446.37L525.11,446.67L525.62,446.98L526.12,447.28L526.62,447.59L527.12,447.90L527.63,448.21L528.13,448.52L528.63,448.83L529.13,449.15L529.64,449.46L530.14,449.77L530.64,450.09L531.14,450.40L531.65,450.71L532.15,451.02L532.65,451.34L533.15,451.65L533.66,451.96L534.16,452.26L534.66,452.57L535.16,452.87L535.67,453.18L536.17,453.48L536.67,453.77L537.17,454.07L537.68,454.36L538.18,454.65L538.68,454.94L539.18,455.22L539.69,455.50L540.19,455.77L540.69,456.04L541.19,456.31L541.70,456.57L542.20,456.83L542.70,457.09L543.20,457.33L543.71,457.58L544.21,457.81L544.71,458.04L545.21,458.27L545.72,458.49L546.22,458.70L546.72,458.91L547.22,459.11L547.73,459.31L548.23,459.49L548.73,459.67L549.23,459.84L549.74,460.01L550.24,460.16L550.74,460.31L551.24,460.45L551.75,460.58L552.25,460.71L552.75,460.82L553.25,460.92L553.76,461.02L554.26,461.11L554.76,461.18L555.26,461.25L555.77,461.30L556.27,461.35L556.77,461.39L557.27,461.41L557.78,461.43L558.28,461.44L558.78,461.44L559.28,461.43L559.79,461.41L560.29,461.39L560.79,461.35L561.29,461.31L561.80,461.26L562.30,461.20L562.80,461.14L563.30,461.06L563.81,460.99L564.31,460.90L564.81,460.81L565.31,460.71L565.82,460.61L566.32,460.50L566.82,460.38L567.32,460.26L567.83,460.14L568.33,460.01L568.83,459.87L569.33,459.73L569.84,459.59L570.34,459.44L570.84,459.29L571.34,459.14L571.85,458.98L572.35,458.82L572.85,458.65L573.35,458.49L573.86,458.32L574.36,458.15L574.86,457.97L575.36,457.80L575.87,457.62L576.37,457.44L576.87,457.26L577.37,457.08L577.88,456.90L578.38,456.72L578.88,456.54L579.38,456.36L579.89,456.18L580.39,455.99L580.89,455.81L581.39,455.63L581.90,455.45L582.40,455.28L582.90,455.10L582.90,455.10L583.40,454.21L583.90,453.33L584.41,452.46L584.91,451.60L585.41,450.75L585.91,449.91L586.41,449.09L586.92,448.27L587.42,447.47L587.92,446.68L588.42,445.89L588.93,445.12L589.43,444.35L589.93,443.60L590.43,442.85L590.93,442.12L591.44,441.39L591.94,440.67L592.44,439.96L592.94,439.26L593.44,438.56L593.95,437.88L594.45,437.20L594.95,436.53L595.45,435.87L595.96,435.22L596.46,434.57L596.96,433.93L597.46,433.29L597.96,432.67L598.47,432.05L598.97,431.43L599.47,430.83L599.97,430.22L600.47,429.63L600.98,429.04L601.48,428.45L601.98,427.87L602.48,427.30L602.99,426.73L603.49,426.16L603.99,425.60L604.49,425.04L604.99,424.49L605.50,423.94L606.00,423.40L606.50,422.86L607.00,422.32L607.50,421.79L608.01,421.26L608.51,420.73L609.01,420.20L609.51,419.68L610.02,419.16L610.52,418.64L611.02,418.13L611.52,417.61L612.02,417.10L612.53,416.59L613.03,416.08L613.53,415.57L614.03,415.07L614.53,414.56L615.04,414.05L615.54,413.55L616.04,413.04L616.54,412.54L617.05,412.03L617.55,411.53L618.05,411.02L618.55,410.51L619.05,410.01L619.56,409.50L620.06,408.99L620.56,408.48L621.06,407.97L621.56,407.45L622.07,406.94L622.57,406.42L623.07,405.90L623.57,405.37L624.08,404.85L624.58,404.32L625.08,403.79L625.58,403.26L626.08,402.72L626.59,402.18L627.09,401.63L627.59,401.08L628.09,400.53L628.59,399.97L629.10,399.41L629.60,398.85L630.10,398.28L630.60,397.70L631.11,397.12L631.61,396.54L632.11,395.94L632.61,395.35L633.11,394.75L633.62,394.14L634.12,393.53L634.62,392.91L635.12,392.29L635.62,391.67L636.13,391.04L636.63,390.40L637.13,389.77L637.63,389.13L638.14,388.48L638.64,387.83L639.14,387.18L639.64,386.52L640.14,385.86L640.65,385.20L641.15,384.54L641.65,383.87L642.15,383.20L642.65,382.52L643.16,381.85L643.66,381.17L644.16,380.49L644.66,379.80L645.17,379.12L645.67,378.43L646.17,377.74L646.67,377.05L647.17,376.36L647.68,375.67L648.18,374.97L648.68,374.28L649.18,373.58L649.68,372.89L650.19,372.19L650.69,371.49L651.19,370.79L651.69,370.09L652.20,369.39L652.70,368.70L653.20,368.00L653.70,367.30L654.20,366.60L654.71,365.90L655.21,365.21L655.71,364.51L656.21,363.81L656.71,363.12L657.22,362.43L657.72,361.73L658.22,361.04L658.72,360.36L659.23,359.67L659.73,358.98L660.23,358.30L660.73,357.62L661.23,356.94L661.74,356.26L662.24,355.59L662.74,354.92L663.24,354.25L663.74,353.58L664.25,352.92L664.75,352.26L665.25,351.60L665.75,350.95L666.26,350.30L666.76,349.65L667.26,349.01L667.76,348.37L668.26,347.74L668.77,347.11L669.27,346.48L669.77,345.86L670.27,345.24L670.77,344.63L671.28,344.02L671.78,343.42L672.28,342.82L672.78,342.23L673.29,341.65L673.79,341.06L674.29,340.49L674.79,339.92L675.29,339.36L675.80,338.80L676.30,338.25L676.80,337.70L676.80,405.10L676.30,405.32L675.80,405.54L675.29,405.75L674.79,405.97L674.29,406.19L673.79,406.40L673.29,406.62L672.78,406.83L672.28,407.04L671.78,407.25L671.28,407.47L670.77,407.68L670.27,407.89L669.77,408.10L669.27,408.31L668.77,408.52L668.26,408.73L667.76,408.94L667.26,409.15L666.76,409.35L666.26,409.56L665.75,409.77L665.25,409.98L664.75,410.19L664.25,410.39L663.74,410.60L663.24,410.81L662.74,411.02L662.24,411.23L661.74,411.43L661.23,411.64L660.73,411.85L660.23,412.06L659.73,412.27L659.23,412.48L658.72,412.68L658.22,412.89L657.72,413.10L657.22,413.31L656.71,413.52L656.21,413.74L655.71,413.95L655.21,414.16L654.71,414.37L654.20,414.58L653.70,414.80L653.20,415.01L652.70,415.23L652.20,415.44L651.69,415.66L651.19,415.88L650.69,416.10L650.19,416.31L649.68,416.53L649.18,416.75L648.68,416.98L648.18,417.20L647.68,417.42L647.17,417.65L646.67,417.87L646.17,418.10L645.67,418.33L645.17,418.56L644.66,418.79L644.16,419.02L643.66,419.25L643.16,419.49L642.65,419.72L642.15,419.96L641.65,420.20L641.15,420.44L640.65,420.68L640.14,420.92L639.64,421.17L639.14,421.41L638.64,421.66L638.14,421.91L637.63,422.16L637.13,422.41L636.63,422.67L636.13,422.92L635.62,423.18L635.12,423.44L634.62,423.70L634.12,423.97L633.62,424.23L633.11,424.50L632.61,424.77L632.11,425.04L631.61,425.31L631.11,425.59L630.60,425.87L630.10,426.15L629.60,426.43L629.10,426.71L628.59,427.00L628.09,427.29L627.59,427.58L627.09,427.87L626.59,428.17L626.08,428.47L625.58,428.77L625.08,429.07L624.58,429.38L624.08,429.69L623.57,430.00L623.07,430.31L622.57,430.63L622.07,430.95L621.56,431.27L621.06,431.59L620.56,431.92L620.06,432.25L619.56,432.58L619.05,432.92L618.55,433.26L618.05,433.60L617.55,433.95L617.05,434.29L616.54,434.64L616.04,434.99L615.54,435.35L615.04,435.70L614.53,436.06L614.03,436.42L613.53,436.78L613.03,437.14L612.53,437.50L612.02,437.86L611.52,438.22L611.02,438.59L610.52,438.95L610.02,439.32L609.51,439.68L609.01,440.05L608.51,440.41L608.01,440.78L607.50,441.14L607.00,441.50L606.50,441.87L606.00,442.23L605.50,442.59L604.99,442.95L604.49,443.30L603.99,443.66L603.49,444.01L602.99,444.36L602.48,444.71L601.98,445.06L601.48,445.41L600.98,445.75L600.47,446.09L599.97,446.43L599.47,446.76L598.97,447.09L598.47,447.42L597.96,447.75L597.46,448.07L596.96,448.39L596.46,448.70L595.96,449.01L595.45,449.31L594.95,449.61L594.45,449.91L593.95,450.20L593.44,450.49L592.94,450.77L592.44,451.04L591.94,451.31L591.44,451.58L590.93,451.84L590.43,452.09L589.93,452.34L589.43,452.58L588.93,452.82L588.42,453.05L587.92,453.27L587.42,453.49L586.92,453.70L586.41,453.90L585.91,454.09L585.41,454.28L584.91,454.46L584.41,454.63L583.90,454.80L583.40,454.95L582.90,455.10L582.90,455.10L582.40,455.80L581.90,456.48L581.39,457.15L580.89,457.81L580.39,458.45L579.89,459.08L579.38,459.70L578.88,460.31L578.38,460.90L577.88,461.48L577.37,462.06L576.87,462.62L576.37,463.17L575.87,463.70L575.36,464.23L574.86,464.75L574.36,465.26L573.86,465.76L573.35,466.24L572.85,466.72L572.35,467.19L571.85,467.66L571.34,468.11L570.84,468.56L570.34,468.99L569.84,469.42L569.33,469.85L568.83,470.26L568.33,470.67L567.83,471.07L567.32,471.47L566.82,471.86L566.32,472.24L565.82,472.62L565.31,472.99L564.81,473.36L564.31,473.72L563.81,474.08L563.30,474.44L562.80,474.79L562.30,475.13L561.80,475.48L561.29,475.82L560.79,476.15L560.29,476.49L559.79,476.82L559.28,477.15L558.78,477.48L558.28,477.80L557.78,478.12L557.27,478.45L556.77,478.77L556.27,479.09L555.77,479.41L555.26,479.73L554.76,480.05L554.26,480.37L553.76,480.69L553.25,481.01L552.75,481.33L552.25,481.65L551.75,481.97L551.24,482.29L550.74,482.61L550.24,482.94L549.74,483.26L549.23,483.58L548.73,483.90L548.23,484.22L547.73,484.54L547.22,484.87L546.72,485.19L546.22,485.51L545.72,485.84L545.21,486.16L544.71,486.49L544.21,486.81L543.71,487.14L543.20,487.47L542.70,487.79L542.20,488.12L541.70,488.45L541.19,488.78L540.69,489.11L540.19,489.44L539.69,489.77L539.18,490.11L538.68,490.44L538.18,490.77L537.68,491.11L537.17,491.44L536.67,491.78L536.17,492.12L535.67,492.46L535.16,492.80L534.66,493.14L534.16,493.48L533.66,493.83L533.15,494.17L532.65,494.52L532.15,494.86L531.65,495.21L531.14,495.56L530.64,495.91L530.14,496.26L529.64,496.62L529.13,496.97L528.63,497.33L528.13,497.69L527.63,498.04L527.12,498.40L526.62,498.77L526.12,499.13L525.62,499.50L525.11,499.86L524.61,500.23L524.11,500.60L523.61,500.97L523.10,501.35L522.60,501.72L522.10,502.10Z" fill="#e3e3ff" stroke="none"/>
<line x1="583.1" y1="295.1" x2="583.1" y2="512.2" stroke="#cdcdcd" stroke-width="1.3" stroke-dasharray="3 2.4"/>
<line x1="513.5" y1="455.40" x2="685.0" y2="455.40" stroke="#cdcdcd" stroke-width="1.3" stroke-dasharray="3 2.4"/>
<path d="M522.10,474.20L522.60,474.10L523.10,474.00L523.60,473.91L524.10,473.82L524.60,473.73L525.10,473.64L525.60,473.56L526.11,473.47L526.61,473.40L527.11,473.32L527.61,473.24L528.11,473.17L528.61,473.10L529.11,473.03L529.61,472.97L530.11,472.90L530.61,472.84L531.11,472.77L531.61,472.71L532.11,472.65L532.61,472.59L533.11,472.54L533.61,472.48L534.12,472.42L534.62,472.37L535.12,472.31L535.62,472.26L536.12,472.20L536.62,472.15L537.12,472.10L537.62,472.04L538.12,471.99L538.62,471.93L539.12,471.88L539.62,471.83L540.12,471.77L540.62,471.71L541.12,471.66L541.63,471.60L542.13,471.54L542.63,471.48L543.13,471.42L543.63,471.36L544.13,471.30L544.63,471.24L545.13,471.17L545.63,471.10L546.13,471.04L546.63,470.97L547.13,470.89L547.63,470.82L548.13,470.74L548.63,470.66L549.13,470.58L549.64,470.50L550.14,470.41L550.64,470.32L551.14,470.23L551.64,470.14L552.14,470.04L552.64,469.94L553.14,469.83L553.64,469.73L554.14,469.62L554.64,469.50L555.14,469.38L555.64,469.26L556.14,469.14L556.64,469.01L557.15,468.88L557.65,468.74L558.15,468.60L558.65,468.45L559.15,468.30L559.65,468.14L560.15,467.98L560.65,467.82L561.15,467.65L561.65,467.48L562.15,467.30L562.65,467.11L563.15,466.92L563.65,466.72L564.15,466.52L564.66,466.31L565.16,466.10L565.66,465.88L566.16,465.66L566.66,465.42L567.16,465.19L567.66,464.94L568.16,464.69L568.66,464.43L569.16,464.17L569.66,463.90L570.16,463.63L570.66,463.35L571.16,463.06L571.66,462.77L572.16,462.47L572.67,462.17L573.17,461.86L573.67,461.55L574.17,461.24L574.67,460.92L575.17,460.60L575.67,460.27L576.17,459.93L576.67,459.60L577.17,459.26L577.67,458.91L578.17,458.56L578.67,458.21L579.17,457.85L579.67,457.48L580.18,457.11L580.68,456.74L581.18,456.36L581.68,455.98L582.18,455.59L582.68,455.20L583.18,454.81L583.68,454.41L584.18,454.00L584.68,453.59L585.18,453.18L585.68,452.76L586.18,452.34L586.68,451.91L587.18,451.49L587.68,451.06L588.19,450.62L588.69,450.19L589.19,449.75L589.69,449.31L590.19,448.86L590.69,448.42L591.19,447.97L591.69,447.52L592.19,447.07L592.69,446.62L593.19,446.17L593.69,445.71L594.19,445.26L594.69,444.81L595.19,444.35L595.70,443.90L596.20,443.44L596.70,442.99L597.20,442.54L597.70,442.08L598.20,441.63L598.70,441.18L599.20,440.73L599.70,440.28L600.20,439.83L600.70,439.38L601.20,438.93L601.70,438.48L602.20,438.04L602.70,437.59L603.20,437.14L603.71,436.70L604.21,436.25L604.71,435.81L605.21,435.36L605.71,434.92L606.21,434.48L606.71,434.03L607.21,433.59L607.71,433.15L608.21,432.71L608.71,432.27L609.21,431.83L609.71,431.39L610.21,430.95L610.71,430.51L611.22,430.07L611.72,429.63L612.22,429.19L612.72,428.75L613.22,428.31L613.72,427.88L614.22,427.44L614.72,427.00L615.22,426.57L615.72,426.13L616.22,425.69L616.72,425.26L617.22,424.82L617.72,424.39L618.22,423.95L618.72,423.52L619.23,423.08L619.73,422.65L620.23,422.21L620.73,421.78L621.23,421.34L621.73,420.91L622.23,420.47L622.73,420.04L623.23,419.61L623.73,419.17L624.23,418.74L624.73,418.30L625.23,417.87L625.73,417.44L626.23,417.00L626.74,416.57L627.24,416.14L627.74,415.70L628.24,415.27L628.74,414.83L629.24,414.40L629.74,413.97L630.24,413.53L630.74,413.10L631.24,412.66L631.74,412.23L632.24,411.79L632.74,411.36L633.24,410.92L633.74,410.49L634.24,410.05L634.75,409.62L635.25,409.18L635.75,408.75L636.25,408.31L636.75,407.88L637.25,407.44L637.75,407.00L638.25,406.57L638.75,406.13L639.25,405.69L639.75,405.25L640.25,404.81L640.75,404.38L641.25,403.94L641.75,403.50L642.26,403.06L642.76,402.62L643.26,402.18L643.76,401.74L644.26,401.30L644.76,400.85L645.26,400.41L645.76,399.97L646.26,399.53L646.76,399.08L647.26,398.64L647.76,398.20L648.26,397.75L648.76,397.31L649.26,396.86L649.77,396.41L650.27,395.97L650.77,395.52L651.27,395.07L651.77,394.62L652.27,394.17L652.77,393.72L653.27,393.27L653.77,392.82L654.27,392.37L654.77,391.92L655.27,391.47L655.77,391.01L656.27,390.56L656.77,390.10L657.27,389.65L657.78,389.19L658.28,388.73L658.78,388.28L659.28,387.82L659.78,387.36L660.28,386.90L660.78,386.44L661.28,385.97L661.78,385.51L662.28,385.05L662.78,384.58L663.28,384.12L663.78,383.65L664.28,383.19L664.78,382.72L665.29,382.25L665.79,381.78L666.29,381.31L666.79,380.84L667.29,380.37L667.79,379.89L668.29,379.42L668.79,378.94L669.29,378.47L669.79,377.99L670.29,377.51L670.79,377.03L671.29,376.55L671.79,376.07L672.29,375.59L672.79,375.11L673.30,374.62L673.80,374.14L674.30,373.65L674.80,373.16L675.30,372.67L675.80,372.18L676.30,371.69L676.80,371.20" fill="none" stroke="#e4516c" stroke-width="1.45" stroke-linejoin="round" stroke-linecap="butt"/>
<path d="M513.5,295.1V512.2H685.0" fill="none" stroke="#000" stroke-width="1.3" stroke-linecap="square"/>
<line x1="511.3" y1="504.5" x2="513.5" y2="504.5" stroke="#707070" stroke-width="0.9"/>
<text x="509.8" y="507.10" text-anchor="end" font-size="8.3" fill="#5f5f5f" stroke="#5f5f5f" stroke-width="0.08">0.95</text>
<line x1="511.3" y1="455.2" x2="513.5" y2="455.2" stroke="#707070" stroke-width="0.9"/>
<text x="509.8" y="457.80" text-anchor="end" font-size="8.3" fill="#5f5f5f" stroke="#5f5f5f" stroke-width="0.08">1.00</text>
<line x1="511.3" y1="406.0" x2="513.5" y2="406.0" stroke="#707070" stroke-width="0.9"/>
<text x="509.8" y="408.60" text-anchor="end" font-size="8.3" fill="#5f5f5f" stroke="#5f5f5f" stroke-width="0.08">1.05</text>
<line x1="511.3" y1="356.7" x2="513.5" y2="356.7" stroke="#707070" stroke-width="0.9"/>
<text x="509.8" y="359.30" text-anchor="end" font-size="8.3" fill="#5f5f5f" stroke="#5f5f5f" stroke-width="0.08">1.10</text>
<line x1="511.3" y1="307.5" x2="513.5" y2="307.5" stroke="#707070" stroke-width="0.9"/>
<text x="509.8" y="310.10" text-anchor="end" font-size="8.3" fill="#5f5f5f" stroke="#5f5f5f" stroke-width="0.08">1.15</text>
<line x1="521.4" y1="512.2" x2="521.4" y2="514.4000000000001" stroke="#707070" stroke-width="0.9"/>
<text x="521.80" y="522.70" text-anchor="middle" font-size="8.3" fill="#5f5f5f" stroke="#5f5f5f" stroke-width="0.08">480</text>
<line x1="555.0" y1="512.2" x2="555.0" y2="514.4000000000001" stroke="#707070" stroke-width="0.9"/>
<text x="555.40" y="522.70" text-anchor="middle" font-size="8.3" fill="#5f5f5f" stroke="#5f5f5f" stroke-width="0.08">680</text>
<line x1="588.6" y1="512.2" x2="588.6" y2="514.4000000000001" stroke="#707070" stroke-width="0.9"/>
<text x="589.00" y="522.70" text-anchor="middle" font-size="8.3" fill="#5f5f5f" stroke="#5f5f5f" stroke-width="0.08">880</text>
<line x1="622.3" y1="512.2" x2="622.3" y2="514.4000000000001" stroke="#707070" stroke-width="0.9"/>
<text x="622.70" y="522.70" text-anchor="middle" font-size="8.3" fill="#5f5f5f" stroke="#5f5f5f" stroke-width="0.08">1080</text>
<line x1="656.0" y1="512.2" x2="656.0" y2="514.4000000000001" stroke="#707070" stroke-width="0.9"/>
<text x="656.40" y="522.70" text-anchor="middle" font-size="8.3" fill="#5f5f5f" stroke="#5f5f5f" stroke-width="0.08">1280</text>
<text x="535.8" y="311.4" font-size="9.7" fill="#000" stroke="#000" stroke-width="0.12"><tspan font-style="italic">P</tspan>-overall &lt;0.0001</text>
<text x="535.8" y="323.4" font-size="9.7" fill="#000" stroke="#000" stroke-width="0.12"><tspan font-style="italic">P</tspan>-non-linear 0.2022</text>
<text x="600.8" y="541.50" text-anchor="middle" font-size="11.3" fill="#000" stroke="#000" stroke-width="0.12">TyG-WC</text>
<text transform="translate(488.0,400.1) rotate(-90)" x="0" y="0" text-anchor="middle" font-size="9.8" fill="#000" stroke="#000" stroke-width="0.12">OR (95% CI)</text>
<text x="472.8" y="290.8" font-size="16.4" fill="#000" stroke="#000" stroke-width="0.12">F</text>
</svg>
</body></html>
